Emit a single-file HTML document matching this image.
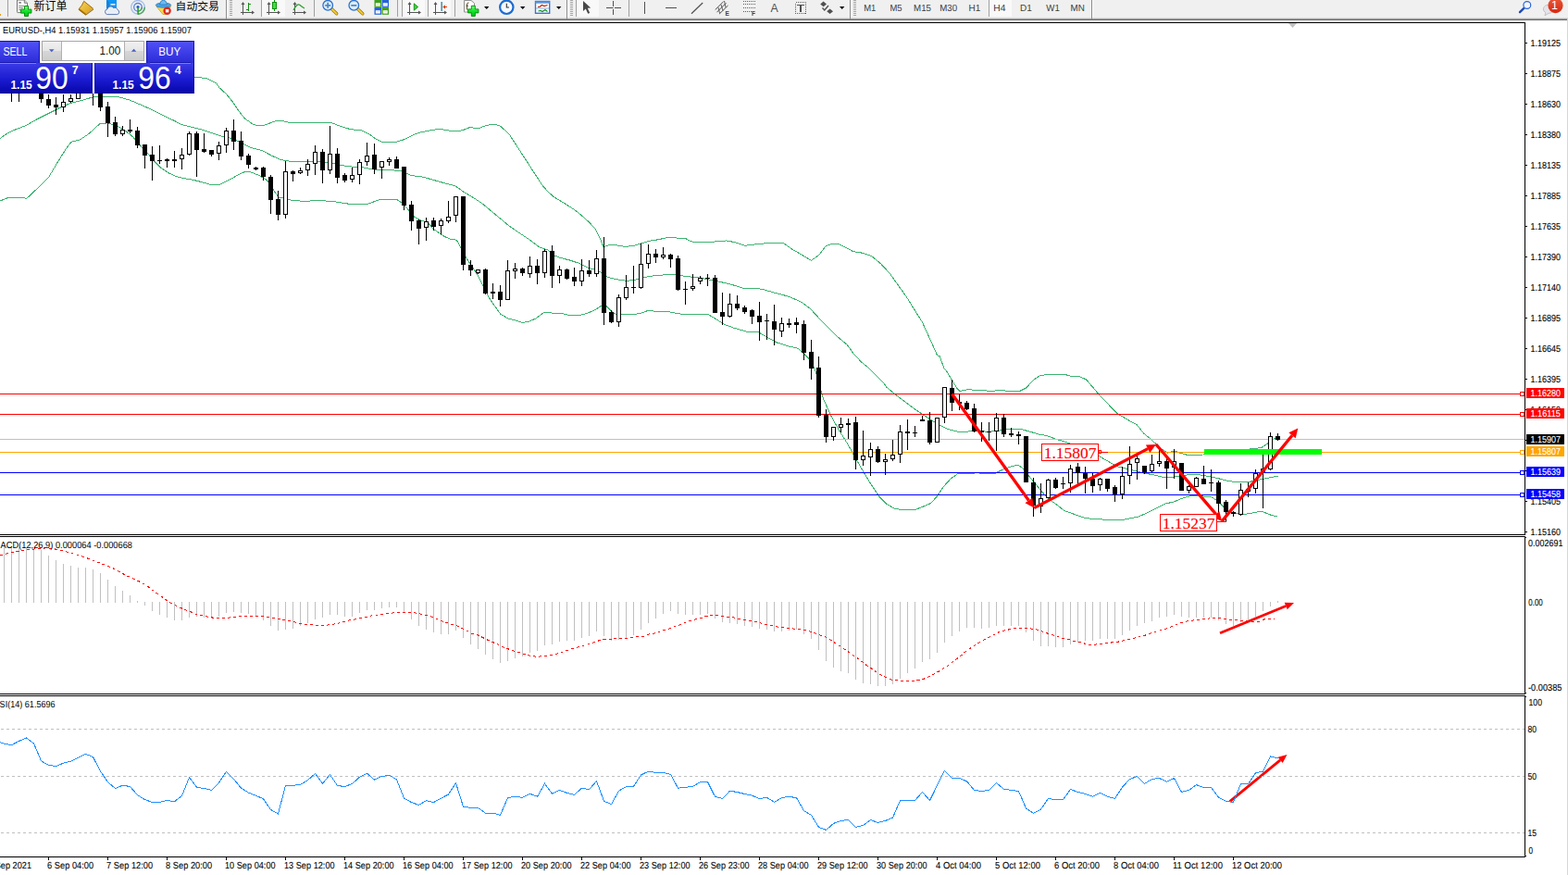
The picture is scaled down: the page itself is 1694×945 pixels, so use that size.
<!DOCTYPE html>
<html><head><meta charset="utf-8"><title>EURUSD H4</title>
<style>html,body{margin:0;padding:0;background:#fff}body{width:1694px;height:945px;overflow:hidden;position:relative;font-family:"Liberation Sans",sans-serif}</style></head>
<body>
<svg width="1694" height="945" viewBox="0 0 1694 945" style="position:absolute;left:0;top:0;display:block">
<defs>
<linearGradient id="gP" x1="0" y1="0" x2="0" y2="1"><stop offset="0" stop-color="#3b3be6"/><stop offset="0.55" stop-color="#1a1ad0"/><stop offset="1" stop-color="#0606a8"/></linearGradient>
<linearGradient id="gB" x1="0" y1="0" x2="0" y2="1"><stop offset="0" stop-color="#5050f6"/><stop offset="1" stop-color="#2c2cd8"/></linearGradient>
<linearGradient id="gBtn" x1="0" y1="0" x2="0" y2="1"><stop offset="0" stop-color="#f0f0f0"/><stop offset="0.48" stop-color="#e6e6e6"/><stop offset="0.52" stop-color="#d6d6d6"/><stop offset="1" stop-color="#cccccc"/></linearGradient>
<linearGradient id="gRed" x1="0" y1="0" x2="0" y2="1"><stop offset="0" stop-color="#e85838"/><stop offset="1" stop-color="#d82810"/></linearGradient>
<linearGradient id="gGold" x1="0" y1="0" x2="1" y2="1"><stop offset="0" stop-color="#f8d860"/><stop offset="1" stop-color="#d89810"/></linearGradient>
<linearGradient id="gGreen" x1="0" y1="0" x2="0" y2="1"><stop offset="0" stop-color="#7dff8a"/><stop offset="0.5" stop-color="#12e42c"/><stop offset="1" stop-color="#00c418"/></linearGradient>
<clipPath id="cMain"><rect x="0" y="25" width="1647" height="552"/></clipPath>
<clipPath id="cMacd"><rect x="0" y="580" width="1647" height="169"/></clipPath>
<clipPath id="cRsi"><rect x="0" y="752" width="1647" height="173"/></clipPath>
</defs>
<rect x="0" y="0" width="1694" height="945" fill="#ffffff" />
<rect x="0" y="0" width="1694" height="19" fill="#f0f0f0" />
<rect x="0" y="19" width="1693" height="1" fill="#dadada" />
<rect x="0" y="20" width="1693" height="1" fill="#a2a2a2" />
<rect x="0" y="21" width="1693" height="1" fill="#6a6a6a" />
<rect x="1693" y="19" width="1" height="926" fill="#d6d6d6" />
<g shape-rendering="crispEdges">
<rect x="283" y="0" width="25" height="18" fill="#f9f9f9" />
<rect x="435" y="0" width="24" height="18" fill="#f9f9f9" />
<rect x="463" y="0" width="24" height="18" fill="#f9f9f9" />
<rect x="623" y="0" width="24" height="18" fill="#f9f9f9" />
<rect x="1069" y="0" width="24" height="18" fill="#f9f9f9" />
<rect x="8" y="0" width="1" height="18" fill="#a0a0a0" />
<rect x="282" y="0" width="1" height="18" fill="#a0a0a0" />
<rect x="339" y="0" width="1" height="18" fill="#a0a0a0" />
<rect x="429" y="0" width="1" height="18" fill="#a0a0a0" />
<rect x="434" y="0" width="1" height="18" fill="#a0a0a0" />
<rect x="462" y="0" width="1" height="18" fill="#a0a0a0" />
<rect x="491" y="0" width="1" height="18" fill="#a0a0a0" />
<rect x="622" y="0" width="1" height="18" fill="#a0a0a0" />
<rect x="679" y="0" width="1" height="18" fill="#a0a0a0" />
<rect x="1068" y="0" width="1" height="18" fill="#a0a0a0" />
<rect x="244" y="0" width="1" height="21" fill="#8c8c8c" />
<rect x="245" y="0" width="1" height="19" fill="#fbfbfb" />
<rect x="612" y="0" width="1" height="21" fill="#8c8c8c" />
<rect x="613" y="0" width="1" height="19" fill="#fbfbfb" />
<rect x="918" y="0" width="1" height="21" fill="#8c8c8c" />
<rect x="919" y="0" width="1" height="19" fill="#fbfbfb" />
<rect x="1179" y="0" width="1" height="21" fill="#8c8c8c" />
<rect x="1180" y="0" width="1" height="19" fill="#fbfbfb" />
<rect x="248" y="0" width="3" height="1" fill="#a6a6a6" />
<rect x="248" y="2" width="3" height="1" fill="#a6a6a6" />
<rect x="248" y="4" width="3" height="1" fill="#a6a6a6" />
<rect x="248" y="6" width="3" height="1" fill="#a6a6a6" />
<rect x="248" y="8" width="3" height="1" fill="#a6a6a6" />
<rect x="248" y="10" width="3" height="1" fill="#a6a6a6" />
<rect x="248" y="12" width="3" height="1" fill="#a6a6a6" />
<rect x="248" y="14" width="3" height="1" fill="#a6a6a6" />
<rect x="248" y="16" width="3" height="1" fill="#a6a6a6" />
<rect x="616" y="0" width="3" height="1" fill="#a6a6a6" />
<rect x="616" y="2" width="3" height="1" fill="#a6a6a6" />
<rect x="616" y="4" width="3" height="1" fill="#a6a6a6" />
<rect x="616" y="6" width="3" height="1" fill="#a6a6a6" />
<rect x="616" y="8" width="3" height="1" fill="#a6a6a6" />
<rect x="616" y="10" width="3" height="1" fill="#a6a6a6" />
<rect x="616" y="12" width="3" height="1" fill="#a6a6a6" />
<rect x="616" y="14" width="3" height="1" fill="#a6a6a6" />
<rect x="616" y="16" width="3" height="1" fill="#a6a6a6" />
<rect x="922" y="0" width="3" height="1" fill="#a6a6a6" />
<rect x="922" y="2" width="3" height="1" fill="#a6a6a6" />
<rect x="922" y="4" width="3" height="1" fill="#a6a6a6" />
<rect x="922" y="6" width="3" height="1" fill="#a6a6a6" />
<rect x="922" y="8" width="3" height="1" fill="#a6a6a6" />
<rect x="922" y="10" width="3" height="1" fill="#a6a6a6" />
<rect x="922" y="12" width="3" height="1" fill="#a6a6a6" />
<rect x="922" y="14" width="3" height="1" fill="#a6a6a6" />
<rect x="922" y="16" width="3" height="1" fill="#a6a6a6" />
</g>
<rect x="0" y="15" width="1" height="2" fill="#e0a020" />
<path d="M18.5 0 L26.3 0 L29.5 3.2 L29.5 12.8 Q29.5 13.6 28.7 13.6 L19.3 13.6 Q18.5 13.6 18.5 12.8 Z" fill="#ffffff" stroke="#747474" stroke-width="1"/>
<path d="M26.3 0 L26.3 3.2 L29.5 3.2" fill="#d8d8d8" stroke="#747474" stroke-width="0.9"/>
<rect x="20.2" y="2" width="2.8" height="1.7" fill="#8c8c8c"/>
<rect x="20.2" y="6" width="5.8" height="1" fill="#8a8a8a"/>
<rect x="20.2" y="8" width="4.6" height="1" fill="#8a8a8a"/>
<rect x="20.2" y="10" width="3" height="1" fill="#8a8a8a"/>
<path d="M26.5 6.5 h4 v3.6 h3.4 v4 h-3.4 v3.4 h-4 v-3.4 h-4 v-4 h4 Z" fill="url(#gGreen)" stroke="#008400" stroke-width="0.9"/>
<text x="36.6" y="11.4" font-family="Liberation Sans, Noto Sans CJK SC, sans-serif" font-size="12" fill="#000" textLength="36" lengthAdjust="spacingAndGlyphs">新订单</text>
<text x="189.6" y="11.3" font-family="Liberation Sans, Noto Sans CJK SC, sans-serif" font-size="11.8" fill="#000" textLength="47.2" lengthAdjust="spacingAndGlyphs">自动交易</text>
<path d="M85.2 9.7 Q88.8 6.2 90.7 1.3 L100.8 9.4 L92.7 15.6 Z" fill="url(#gGold)" stroke="#a06c04" stroke-width="1"/>
<path d="M85.2 9.7 L92.7 15.6" fill="none" stroke="#b07a08" stroke-width="1.8"/><path d="M93 15.4 L100.8 9.6" fill="none" stroke="#c8b070" stroke-width="1.6"/><path d="M85.2 10.4 L92.7 16.2 L101 10" fill="none" stroke="#946004" stroke-width="0.8"/>
<rect x="115" y="0" width="11" height="9.5" fill="#1096f4"/><path d="M115 0 L118 2 L118 9.5 L115 9.5 Z" fill="#0a84e0"/>
<rect x="119.5" y="4" width="5" height="1.6" fill="#d8ecff"/>

<path d="M115.6 15.6 a3 3 0 0 1 0.4 -5.8 a3.6 3.6 0 0 1 6.6 -1.2 a3 3 0 0 1 4.4 2 a2.6 2.6 0 0 1 -0.4 5 Z" fill="#e8eef8" stroke="#4c6aa8" stroke-width="0.9"/>
<circle cx="149" cy="7.8" r="7.3" fill="none" stroke="#a4bce8" stroke-width="1.3"/>
<path d="M156.3 7.8 a7.3 7.3 0 0 1 -7.3 7.3" fill="none" stroke="#58a868" stroke-width="1.6"/>
<circle cx="149" cy="7.8" r="4.3" fill="none" stroke="#5a86d8" stroke-width="1.3"/>
<path d="M153.3 7.8 a4.3 4.3 0 0 1 -4.3 4.3" fill="none" stroke="#48a058" stroke-width="1.4"/>
<circle cx="149" cy="7.6" r="1.6" fill="#2858c8"/>
<rect x="148.3" y="8" width="1.6" height="7.6" fill="#28a028"/>
<path d="M169 7 L184.5 7 L179 15.5 L176 15.5 Z" fill="#f4d850" stroke="#c8a020" stroke-width="0.8"/>
<ellipse cx="176.5" cy="5.6" rx="8.2" ry="2.6" fill="#4aa4e4" stroke="#2a7ac0" stroke-width="0.8"/>
<path d="M172.5 5 Q173 0.5 176.5 0 Q180 0.5 180.5 5 Z" fill="#6abcf0" stroke="#2a7ac0" stroke-width="0.8"/>
<circle cx="180.6" cy="11.7" r="4.2" fill="#e02818"/>
<rect x="178.9" y="10" width="3.4" height="3.4" fill="#ffffff"/>
<g fill="#555" shape-rendering="crispEdges"><rect x="262" y="3" width="1" height="13"/><rect x="260" y="13" width="13" height="1"/></g>
<path d="M260.5 5 L262.5 2 L264.5 5 Z M272 11.5 L275 13.5 L272 15.5 Z" fill="#555"/>
<g fill="#109010" shape-rendering="crispEdges"><rect x="268" y="3" width="1" height="9"/><rect x="268" y="4" width="3" height="1"/><rect x="266" y="10" width="3" height="1"/></g>
<g fill="#555" shape-rendering="crispEdges"><rect x="290" y="3" width="1" height="13"/><rect x="288" y="13" width="13" height="1"/></g>
<path d="M288.5 5 L290.5 2 L292.5 5 Z M300 11.5 L303 13.5 L300 15.5 Z" fill="#555"/>
<g shape-rendering="crispEdges"><rect x="296" y="0" width="1" height="12" fill="#109010"/><rect x="294" y="2" width="5" height="8" fill="#109010"/><rect x="295" y="3" width="3" height="6" fill="#40e040"/></g>
<g fill="#555" shape-rendering="crispEdges"><rect x="318" y="3" width="1" height="13"/><rect x="316" y="13" width="13" height="1"/></g>
<path d="M316.5 5 L318.5 2 L320.5 5 Z M328 11.5 L331 13.5 L328 15.5 Z" fill="#555"/>
<path d="M317 11 Q321 3 324 5.5 T329 9" fill="none" stroke="#30a030" stroke-width="1.3"/>
<path d="M358.2 9.5 L363.7 14.8" stroke="#a87808" stroke-width="3.4" stroke-linecap="round"/>
<path d="M358.2 9.5 L363.7 14.8" stroke="#f0d040" stroke-width="1.8" stroke-linecap="round"/>
<circle cx="354.2" cy="5.8" r="5.3" fill="#dcecfc" stroke="#2a72cc" stroke-width="1.3"/>
<rect x="351.2" y="5" width="6" height="1.7" fill="#4a86c0"/>
<rect x="353.34999999999997" y="2.8" width="1.7" height="6" fill="#4a86c0"/>
<path d="M386.3 9.5 L391.8 14.8" stroke="#a87808" stroke-width="3.4" stroke-linecap="round"/>
<path d="M386.3 9.5 L391.8 14.8" stroke="#f0d040" stroke-width="1.8" stroke-linecap="round"/>
<circle cx="382.3" cy="5.8" r="5.3" fill="#dcecfc" stroke="#2a72cc" stroke-width="1.3"/>
<rect x="379.3" y="5" width="6" height="1.7" fill="#4a86c0"/>
<rect x="404.5" y="0" width="7.5" height="7.8" fill="#3ea01e"/>
<rect x="405.8" y="3.2" width="5" height="3.4" fill="#ffffff"/>
<rect x="406.7" y="4.2" width="3.2" height="1" fill="#c8ecb0"/>
<rect x="412.5" y="0" width="7.5" height="7.8" fill="#2464d8"/>
<rect x="413.8" y="3.2" width="5" height="3.4" fill="#ffffff"/>
<rect x="414.7" y="4.2" width="3.2" height="1" fill="#d0e0ff"/>
<rect x="404.5" y="8" width="7.5" height="7.8" fill="#2464d8"/>
<rect x="405.8" y="11.2" width="5" height="3.4" fill="#ffffff"/>
<rect x="406.7" y="12.2" width="3.2" height="1" fill="#d0e0ff"/>
<rect x="412.5" y="8" width="7.5" height="7.8" fill="#3ea01e"/>
<rect x="413.8" y="11.2" width="5" height="3.4" fill="#ffffff"/>
<rect x="414.7" y="12.2" width="3.2" height="1" fill="#c8ecb0"/>
<g fill="#555" shape-rendering="crispEdges"><rect x="442" y="3" width="1" height="13"/><rect x="440" y="13" width="13" height="1"/></g>
<path d="M440.5 5 L442.5 2 L444.5 5 Z M452 11.5 L455 13.5 L452 15.5 Z" fill="#555"/>
<path d="M447.3 3.8 L451.6 7.5 L447.3 11.2 Z" fill="#40d040" stroke="#109010" stroke-width="0.9"/>
<g fill="#555" shape-rendering="crispEdges"><rect x="470" y="3" width="1" height="13"/><rect x="468" y="13" width="13" height="1"/></g>
<path d="M468.5 5 L470.5 2 L472.5 5 Z M480 11.5 L483 13.5 L480 15.5 Z" fill="#555"/>
<rect x="476.5" y="2" width="1.3" height="10" fill="#2080a0"/>
<path d="M478.2 7.5 L481.2 5.2 L481 7 L483 7 L483 8 L481 8 L481.2 9.8 Z" fill="#d84010"/>
<path d="M501.5 0.5 L509 0.5 L512.5 3.5 L512.5 13 L501.5 13 Z" fill="#fdfdfd" stroke="#909090" stroke-width="1"/>
<path d="M506.5 3 Q504.5 2.5 504.5 5 L504.5 10.5 M503.3 6.2 L506 6.2" stroke="#605030" stroke-width="1" fill="none"/>
<path d="M509.3 6.3 h4 v3.6 h3.6 v4 h-3.6 v3.5 h-4 v-3.5 h-3.7 v-4 h3.7 Z" fill="url(#gGreen)" stroke="#008400" stroke-width="0.9"/>
<path d="M523 7 L528.4 7 L525.7 10 Z" fill="#000"/>
<path d="M562 7 L567.4 7 L564.7 10 Z" fill="#000"/>
<path d="M601 7 L606.4 7 L603.7 10 Z" fill="#000"/>
<path d="M907 7 L912.4 7 L909.7 10 Z" fill="#000"/>
<circle cx="547.3" cy="7.8" r="7.2" fill="#f4f8ff" stroke="#1c6cd0" stroke-width="2.2"/>
<path d="M547.3 3.8 L547.3 8 L550 8" stroke="#303030" stroke-width="1.1" fill="none"/>
<rect x="546.3" y="0" width="2" height="1.2" fill="#1c6cd0"/>
<rect x="578.5" y="1.5" width="15.2" height="12.8" fill="#ffffff" stroke="#3a76c8" stroke-width="1.4"/>
<rect x="578.5" y="1.5" width="15.2" height="2.2" fill="#5a96e0"/>
<rect x="579" y="8.5" width="14" height="1" fill="#8ab0e0"/>
<path d="M581 7.5 L583 7.5 L585.5 5.5 L588 6.5 L591.5 5.5" stroke="#b02010" stroke-width="1.2" fill="none"/>
<path d="M581.5 12 L584 11.5 L586 12.5 L589 10.5 L591.5 12.5" stroke="#109020" stroke-width="1.2" fill="none"/>
<path d="M630 1 L630 12 L632.8 9.6 L635.2 14.8 L637.2 13.9 L634.8 8.8 L638.2 8.4 Z" fill="#484848"/>
<g fill="#505050" shape-rendering="crispEdges"><rect x="655" y="8" width="7" height="1"/><rect x="664" y="8" width="7" height="1"/><rect x="662" y="1" width="1" height="6"/><rect x="662" y="10" width="1" height="6"/><rect x="662" y="8" width="1" height="1" fill="#909090"/></g>
<g fill="#505050" shape-rendering="crispEdges"><rect x="696" y="2" width="1" height="13"/><rect x="719" y="8" width="12" height="1"/></g>
<path d="M747 14.8 L759.2 3" stroke="#505050" stroke-width="1.2"/>
<path d="M772.7 10.5 L781.5 1.8 M774.5 13.2 L784.5 3.2 M777 15.2 L786.5 6" stroke="#505050" stroke-width="1"/>
<path d="M776 8 L777.5 14 M779 5 L781 11.5 M782.5 1 L784 8" stroke="#505050" stroke-width="0.9"/>
<text x="783.6" y="16.6" font-family="Liberation Sans, sans-serif" font-size="6.5" font-weight="bold" fill="#404040">E</text>
<path d="M802.5 1.5 H815.5" stroke="#606060" stroke-width="1" stroke-dasharray="1 1" shape-rendering="crispEdges"/>
<path d="M802.5 4.5 H815.5" stroke="#606060" stroke-width="1" stroke-dasharray="1 1" shape-rendering="crispEdges"/>
<path d="M802.5 8.5 H815.5" stroke="#606060" stroke-width="1" stroke-dasharray="1 1" shape-rendering="crispEdges"/>
<path d="M802.5 12.5 H811.5" stroke="#606060" stroke-width="1" stroke-dasharray="1 1" shape-rendering="crispEdges"/>
<text x="812" y="16.6" font-family="Liberation Sans, sans-serif" font-size="6.5" font-weight="bold" fill="#404040">F</text>
<text x="832.6" y="12.8" font-family="Liberation Sans, sans-serif" font-size="12.5" fill="#505050" textLength="8.2" lengthAdjust="spacingAndGlyphs">A</text>
<rect x="859.5" y="2.5" width="11" height="12" fill="none" stroke="#606060" stroke-width="1" stroke-dasharray="1 1" shape-rendering="crispEdges"/>
<g fill="#505050" shape-rendering="crispEdges"><rect x="861" y="5" width="8" height="1"/><rect x="864" y="5" width="2" height="8"/></g>
<path d="M889.6 1.5 L893 4.5 L889.6 7.2 L886.2 4.5 Z M896.6 9.5 L900 12.3 L896.6 15 L893.2 12.3 Z" fill="#505050"/>
<path d="M888.5 8.5 L890.8 11 L895 6" stroke="#505050" stroke-width="1.4" fill="none"/>
<text transform="translate(933.2 12) skewX(0.5)" font-family="Liberation Sans, sans-serif" font-size="10.2" fill="#404040" textLength="13.2" lengthAdjust="spacingAndGlyphs">M1</text>
<text transform="translate(961.4 12) skewX(0.5)" font-family="Liberation Sans, sans-serif" font-size="10.2" fill="#404040" textLength="13.2" lengthAdjust="spacingAndGlyphs">M5</text>
<text transform="translate(987 12) skewX(0.5)" font-family="Liberation Sans, sans-serif" font-size="10.2" fill="#404040" textLength="19" lengthAdjust="spacingAndGlyphs">M15</text>
<text transform="translate(1015.2 12) skewX(0.5)" font-family="Liberation Sans, sans-serif" font-size="10.2" fill="#404040" textLength="19" lengthAdjust="spacingAndGlyphs">M30</text>
<text transform="translate(1046.4 12) skewX(0.5)" font-family="Liberation Sans, sans-serif" font-size="10.2" fill="#404040" textLength="12.8" lengthAdjust="spacingAndGlyphs">H1</text>
<text transform="translate(1073.2 12) skewX(0.5)" font-family="Liberation Sans, sans-serif" font-size="10.2" fill="#404040" textLength="13.2" lengthAdjust="spacingAndGlyphs">H4</text>
<text transform="translate(1102 12) skewX(0.5)" font-family="Liberation Sans, sans-serif" font-size="10.2" fill="#404040" textLength="12.8" lengthAdjust="spacingAndGlyphs">D1</text>
<text transform="translate(1130.2 12) skewX(0.5)" font-family="Liberation Sans, sans-serif" font-size="10.2" fill="#404040" textLength="14.6" lengthAdjust="spacingAndGlyphs">W1</text>
<text transform="translate(1156.4 12) skewX(0.5)" font-family="Liberation Sans, sans-serif" font-size="10.2" fill="#404040" textLength="15.4" lengthAdjust="spacingAndGlyphs">MN</text>
<path d="M1646.4 8.8 L1642 13.2" stroke="#1c4cb8" stroke-width="2.4" stroke-linecap="round"/>
<circle cx="1649.8" cy="5.5" r="3.9" fill="#f4f6fc" stroke="#2864d8" stroke-width="1.2"/>
<path d="M1669 16.8 L1669.8 13.6 a5.6 4.6 0 1 1 3.2 0.8 Z" fill="#e4e4ea" stroke="#b8b8bc" stroke-width="0.8"/>
<circle cx="1680.5" cy="6.1" r="8.1" fill="url(#gRed)"/>
<text x="1679.6" y="9.8" font-family="Liberation Sans, sans-serif" font-size="12.5" fill="#fff" text-anchor="middle">1</text>
<g shape-rendering="crispEdges" fill="#000">
<rect x="0" y="24" width="1648" height="1" fill="#000" />
<rect x="1647" y="24" width="1" height="554" fill="#000" />
<rect x="1647" y="579" width="1" height="171" fill="#000" />
<rect x="1647" y="751" width="1" height="175" fill="#000" />
<rect x="0" y="577" width="1648" height="1" fill="#000" />
<rect x="0" y="579" width="1648" height="1" fill="#000" />
<rect x="0" y="749" width="1648" height="1" fill="#000" />
<rect x="0" y="751" width="1648" height="1" fill="#000" />
<rect x="0" y="925" width="1648" height="1" fill="#000" />
</g>
<path d="M1392 25 L1401 25 L1396.5 30 Z" fill="#c0c0c0"/>
<g clip-path="url(#cMain)" shape-rendering="crispEdges">
<polyline points="200,82.6 212.7,83.1 223.9,84.9 233.8,89.9 237.2,95 244.6,101.6 251.2,109.9 257.9,119.8 264.5,128.1 272.7,133.8 276.6,135.4 280,135.5 284.9,135.4 293.1,132.4 299.8,130.2 304.7,130.6 313,132.4 336.1,132.4 357.6,132.4 365.9,135.7 379.1,139.8 390.7,140.7 398.9,144.8 405.5,149.8 412.1,153.1 428.7,153.1 436.9,150.6 445.2,146.4 451.8,143.5 465,140.7 475,139.3 483.2,140.7 491.5,142 499.8,140.7 508,137.4 516.3,139 524.5,135.7 531.2,134.4 539.4,135.2 550,144.8 585.8,200 592.4,207.4 599,213.2 608.9,219 620.5,226.4 628.8,233.1 637,240.5 643.6,247.9 648.6,257.9 651.9,266.9 658.5,264.5 666.8,265 675,266.4 685,265.3 693.2,262.8 701.5,260.3 711.4,258.7 721.3,256.5 731.2,257 741.2,257.9 746.6,260.8 749.4,261.2 764.8,262 776.4,260.5 784.6,260 794.5,261.7 804.5,265.3 814.4,264.1 829.3,262.5 845.8,262.1 855.7,269.1 865.6,274.9 876.4,281.2 884.6,275.7 892.1,265.8 898.7,263.3 905.3,263.3 913.6,267.4 921.8,271.6 931.7,273.2 941.7,276.5 951.6,284.8 961.5,295.5 971.4,309.6 979.7,321.2 987.9,334.4 996.2,347.6 1004.5,365.8 1012.7,384 1015.3,384.9 1020,398 1021.9,399.8 1028.5,410.5 1033.5,418.8 1036.8,422.4 1045,420.9 1058.3,421.2 1071.5,422.6 1080,421.3 1087.8,422.2 1096.9,422.6 1100.8,422.9 1108.6,419 1116.4,410.5 1124.2,405.3 1135.8,404.3 1150.1,404.3 1156.6,406.2 1165.7,406.4 1173.5,409.9 1181.3,419 1187.8,426.8 1194.3,433.2 1200.8,440.4 1207.3,446.9 1215.1,451.4 1221.6,455.3 1228.1,458.6 1235.8,468.3 1242.3,473.5 1248.8,479.4 1255.3,485.2 1261.8,489.1 1268.3,486.8 1274.8,489.1 1282.6,491.3 1300,491 1308.3,490.9 1328.6,489.6 1352.3,484.5 1362.5,483.8 1369.3,479.1 1374.3,474.3 1379.9,473.2" fill="none" stroke="#3cb371" stroke-width="1" />
<polyline points="0,149.5 8.3,143.8 16.5,140 28.1,135.5 39.7,128.9 52.9,122.3 66.1,115.7 76,111.5 89.3,108.2 99.2,105.2 109.1,104.1 119,104.1 128.9,104.9 140.5,108.2 152.1,113.2 165.3,119 178.5,125.6 188.4,130.5 196.7,134.7 208.3,137.6 219.8,140.5 231.4,144.6 241.3,147.9 251.2,149.5 261.2,154.5 270,159.2 271.1,159.5 283.2,162.6 293.1,167.9 303.1,172.4 313,174.2 336.1,174.2 356,175.4 369.2,178.7 382.4,180.3 392.3,180.8 402.2,182.8 412.1,183.6 428.7,184.1 435.3,184.8 443.6,189.4 456.8,191.1 468.3,194.4 479.9,197.7 491.5,200.5 501.4,207.6 511.3,213.4 521.2,220 531.2,228.3 541.1,236.5 550,244 562.6,252.6 572.6,259.2 582.5,266.9 592.4,270.2 599,276 605.6,278.5 615.5,281 625.5,284.3 635.4,289.3 645.3,291.7 650.2,295 655.2,298.7 661.8,300.8 670.1,302.5 678.3,303.3 686.6,302.1 694.9,300 701.5,298.3 711.4,297.5 721.3,296.4 727.9,296.2 734.5,297.5 740,298.3 756.5,300.2 773.1,303.3 789.6,307.1 802.8,311.2 822.6,312.1 835.9,315.9 852.4,320.3 865.6,326.1 875.5,333.6 885.5,344.3 895.4,354.2 905.3,364.1 915.2,372.4 921.8,381.5 930.1,390.6 938.3,397.2 946.6,405.5 954.9,413.7 957.4,417.9 967.4,426.2 977.3,433.6 987.2,441.1 997.1,447.7 1007,454.3 1015.3,459.3 1025.2,463.9 1035.1,466.2 1045,466.2 1055,464.5 1064.9,466.2 1074.8,465.9 1084.7,464.2 1094.6,463.4 1104.5,463.9 1114.5,466.7 1122.7,469.2 1130,470.3 1140,473.9 1153.2,478 1164.8,483 1176.4,486.3 1187.9,492.9 1197.9,498.7 1206.1,503.6 1216,506.1 1226,508.6 1235.9,511.1 1245.8,512.7 1255.7,515.2 1265.6,515.7 1275.5,513.6 1285.5,512.7 1295.4,512.7 1305.3,514.4 1315.2,516.4 1325.1,519 1335,520.7 1346.6,521 1356.5,519 1366.4,516.9 1374.7,515.2 1380.5,514" fill="none" stroke="#3cb371" stroke-width="1" />
<polyline points="0,217 8.3,213.7 24.8,213.7 28.9,214.3 39.7,204.1 52.9,190.9 62.8,174.3 71.1,161.1 76.9,153.2 86,151.2 95.9,144.6 108.3,133.3 115.7,133 125.6,135.5 135.5,141.3 143.8,147.9 152.1,157.8 158.7,164.4 165.3,172.7 173.6,181 181.8,186.7 190.1,190.5 198.3,192.5 208.3,194.2 218.2,196.7 228.1,199.5 238,199.1 247.9,194.2 257.9,188.4 264.5,185.6 270,185.6 279.9,189.4 288.2,194.4 294.8,204.3 301.4,213.4 308,214.2 313,215.9 329.5,217.5 342.7,216.4 359.3,217.5 377.4,220.3 397.3,220.3 410.5,215.4 428.7,215.4 435.3,220 441.9,227.4 448.5,234.9 455.1,238.2 461.7,239.8 468.3,247.3 476.6,253.1 480,255.4 486.6,258.2 493.2,259.2 498.2,267.8 503.1,277.7 509.8,287.6 516.4,297.5 521.3,307.4 527.9,320.7 534.5,330.6 541.2,339.7 549.4,344.1 557.7,346.3 564.3,348.3 570.9,347.6 579.2,343.8 587.4,337.7 595.7,338 605.6,338 615.5,340.8 625.5,340.8 635.4,338 643.6,334.2 650.2,329.8 655.2,330.6 660.2,335.9 665.1,339.3 671.7,339.7 685,339.7 693.2,338 699.8,335.5 711.4,336.4 721.3,336.4 731.2,338.5 740,339.8 764.8,339.3 773.1,344.3 783,350.6 792.9,354.2 806.1,358 819.3,358.8 829.3,364.5 839.2,369.9 852.4,374 862.3,376.2 868.2,382.4 868.9,382.3 875.5,388.9 876.4,391.5 880.5,398.8 883.1,408 889.7,431.2 897.9,449.3 906.6,464.9 914.9,478.1 921.5,489.7 929.8,504.5 939.7,521.1 949.6,536 957.9,544.2 966.1,549.2 972.7,550.3 989.3,550.3 997.5,547 1005.8,543.4 1012.4,536 1019,526 1027.3,516.9 1035.5,511.2 1045.5,511.5 1055.4,510.8 1065.3,511.5 1075.2,511.2 1081.8,507.9 1090.1,504.5 1100,502.1 1106.6,507 1113.2,516.1 1121.5,526 1129.8,536 1138,542.6 1140,543.8 1149.9,551.6 1161.5,555.7 1171.4,559.3 1183,560.7 1202.8,561.5 1214.4,561.2 1229.3,558.2 1239.2,554 1249.1,549.1 1259,544.1 1268.9,541.7 1278.8,537.5 1285.5,535.9 1298.7,535.9 1308.6,536.7 1315.2,540.8 1321.8,547.4 1326.8,552.4 1335,554 1343.3,555.7 1353.2,554 1363.1,552.1 1371.4,555.7 1380.5,558.2" fill="none" stroke="#3cb371" stroke-width="1" />
<rect x="0" y="474" width="1647" height="1" fill="#c0c0c0" />
<rect x="0" y="425" width="1647" height="1" fill="#ff0000" />
<rect x="0" y="447" width="1647" height="1" fill="#ff0000" />
<rect x="0" y="488" width="1647" height="1" fill="#ffa500" />
<rect x="0" y="510" width="1647" height="1" fill="#0000ff" />
<rect x="0" y="534" width="1647" height="1" fill="#0000ff" />
<rect x="4" y="92" width="1" height="7" fill="#000" />
<rect x="2" y="93" width="5" height="5" fill="#000" />
<rect x="12" y="92" width="1" height="18" fill="#000" />
<rect x="10" y="93" width="5" height="5" fill="#000" />
<rect x="20" y="92" width="1" height="18" fill="#000" />
<rect x="18" y="93" width="5" height="5" fill="#000" />
<rect x="19" y="94" width="3" height="3" fill="#fff" />
<rect x="28" y="92" width="1" height="6" fill="#000" />
<rect x="26" y="93" width="5" height="4" fill="#000" />
<rect x="36" y="92" width="1" height="6" fill="#000" />
<rect x="34" y="93" width="5" height="4" fill="#000" />
<rect x="35" y="94" width="3" height="2" fill="#fff" />
<rect x="44" y="95" width="1" height="16" fill="#000" />
<rect x="42" y="98" width="5" height="9" fill="#000" />
<rect x="52" y="102" width="1" height="15" fill="#000" />
<rect x="50" y="107" width="5" height="7" fill="#000" />
<rect x="60" y="105" width="1" height="19" fill="#000" />
<rect x="58" y="113" width="5" height="3" fill="#000" />
<rect x="68" y="102" width="1" height="19" fill="#000" />
<rect x="66" y="110" width="5" height="6" fill="#000" />
<rect x="67" y="111" width="3" height="4" fill="#fff" />
<rect x="76" y="102" width="1" height="9" fill="#000" />
<rect x="74" y="106" width="5" height="4" fill="#000" />
<rect x="75" y="107" width="3" height="2" fill="#fff" />
<rect x="84" y="98" width="1" height="9" fill="#000" />
<rect x="82" y="100" width="5" height="7" fill="#000" />
<rect x="83" y="101" width="3" height="5" fill="#fff" />
<rect x="92" y="92" width="1" height="7" fill="#000" />
<rect x="90" y="93" width="5" height="5" fill="#000" />
<rect x="91" y="94" width="3" height="3" fill="#fff" />
<rect x="100" y="92" width="1" height="22" fill="#000" />
<rect x="98" y="93" width="5" height="5" fill="#000" />
<rect x="108" y="95" width="1" height="25" fill="#000" />
<rect x="106" y="97" width="5" height="19" fill="#000" />
<rect x="116" y="110" width="1" height="38" fill="#000" />
<rect x="114" y="115" width="5" height="18" fill="#000" />
<rect x="124" y="126" width="1" height="21" fill="#000" />
<rect x="122" y="132" width="5" height="13" fill="#000" />
<rect x="132" y="136" width="1" height="11" fill="#000" />
<rect x="130" y="140" width="5" height="5" fill="#000" />
<rect x="131" y="141" width="3" height="3" fill="#fff" />
<rect x="140" y="129" width="1" height="15" fill="#000" />
<rect x="138" y="140" width="5" height="2" fill="#000" />
<rect x="148" y="137" width="1" height="23" fill="#000" />
<rect x="146" y="141" width="5" height="16" fill="#000" />
<rect x="156" y="156" width="1" height="26" fill="#000" />
<rect x="154" y="156" width="5" height="12" fill="#000" />
<rect x="164" y="158" width="1" height="37" fill="#000" />
<rect x="162" y="167" width="5" height="7" fill="#000" />
<rect x="172" y="157" width="1" height="20" fill="#000" />
<rect x="170" y="173" width="5" height="1" fill="#000" />
<rect x="180" y="171" width="1" height="10" fill="#000" />
<rect x="178" y="172" width="5" height="2" fill="#000" />
<rect x="188" y="163" width="1" height="18" fill="#000" />
<rect x="186" y="172" width="5" height="2" fill="#000" />
<rect x="196" y="160" width="1" height="23" fill="#000" />
<rect x="194" y="167" width="5" height="5" fill="#000" />
<rect x="195" y="168" width="3" height="3" fill="#fff" />
<rect x="204" y="142" width="1" height="26" fill="#000" />
<rect x="202" y="144" width="5" height="23" fill="#000" />
<rect x="203" y="145" width="3" height="21" fill="#fff" />
<rect x="212" y="142" width="1" height="49" fill="#000" />
<rect x="210" y="144" width="5" height="18" fill="#000" />
<rect x="220" y="144" width="1" height="21" fill="#000" />
<rect x="218" y="161" width="5" height="3" fill="#000" />
<rect x="228" y="162" width="1" height="7" fill="#000" />
<rect x="226" y="162" width="5" height="5" fill="#000" />
<rect x="236" y="153" width="1" height="20" fill="#000" />
<rect x="234" y="157" width="5" height="9" fill="#000" />
<rect x="235" y="158" width="3" height="7" fill="#fff" />
<rect x="244" y="138" width="1" height="27" fill="#000" />
<rect x="242" y="141" width="5" height="16" fill="#000" />
<rect x="243" y="142" width="3" height="14" fill="#fff" />
<rect x="252" y="129" width="1" height="33" fill="#000" />
<rect x="250" y="141" width="5" height="12" fill="#000" />
<rect x="260" y="142" width="1" height="31" fill="#000" />
<rect x="258" y="152" width="5" height="17" fill="#000" />
<rect x="268" y="166" width="1" height="16" fill="#000" />
<rect x="266" y="168" width="5" height="10" fill="#000" />
<rect x="276" y="180" width="1" height="4" fill="#000" />
<rect x="274" y="181" width="5" height="2" fill="#000" />
<rect x="284" y="180" width="1" height="15" fill="#000" />
<rect x="282" y="181" width="5" height="10" fill="#000" />
<rect x="292" y="189" width="1" height="42" fill="#000" />
<rect x="290" y="191" width="5" height="25" fill="#000" />
<rect x="300" y="206" width="1" height="32" fill="#000" />
<rect x="298" y="215" width="5" height="17" fill="#000" />
<rect x="308" y="174" width="1" height="62" fill="#000" />
<rect x="306" y="185" width="5" height="47" fill="#000" />
<rect x="307" y="186" width="3" height="45" fill="#fff" />
<rect x="316" y="184" width="1" height="12" fill="#000" />
<rect x="314" y="185" width="5" height="3" fill="#000" />
<rect x="324" y="181" width="1" height="7" fill="#000" />
<rect x="322" y="184" width="5" height="3" fill="#000" />
<rect x="323" y="185" width="3" height="1" fill="#fff" />
<rect x="332" y="172" width="1" height="18" fill="#000" />
<rect x="330" y="177" width="5" height="7" fill="#000" />
<rect x="331" y="178" width="3" height="5" fill="#fff" />
<rect x="340" y="157" width="1" height="32" fill="#000" />
<rect x="338" y="164" width="5" height="13" fill="#000" />
<rect x="339" y="165" width="3" height="11" fill="#fff" />
<rect x="348" y="161" width="1" height="37" fill="#000" />
<rect x="346" y="164" width="5" height="20" fill="#000" />
<rect x="356" y="136" width="1" height="52" fill="#000" />
<rect x="354" y="166" width="5" height="18" fill="#000" />
<rect x="355" y="167" width="3" height="16" fill="#fff" />
<rect x="364" y="160" width="1" height="38" fill="#000" />
<rect x="362" y="166" width="5" height="26" fill="#000" />
<rect x="372" y="187" width="1" height="10" fill="#000" />
<rect x="370" y="189" width="5" height="6" fill="#000" />
<rect x="380" y="181" width="1" height="16" fill="#000" />
<rect x="378" y="189" width="5" height="5" fill="#000" />
<rect x="379" y="190" width="3" height="3" fill="#fff" />
<rect x="388" y="172" width="1" height="27" fill="#000" />
<rect x="386" y="175" width="5" height="14" fill="#000" />
<rect x="387" y="176" width="3" height="12" fill="#fff" />
<rect x="396" y="154" width="1" height="25" fill="#000" />
<rect x="394" y="168" width="5" height="7" fill="#000" />
<rect x="395" y="169" width="3" height="5" fill="#fff" />
<rect x="404" y="155" width="1" height="33" fill="#000" />
<rect x="402" y="167" width="5" height="16" fill="#000" />
<rect x="412" y="174" width="1" height="19" fill="#000" />
<rect x="410" y="174" width="5" height="7" fill="#000" />
<rect x="411" y="175" width="3" height="5" fill="#fff" />
<rect x="420" y="170" width="1" height="9" fill="#000" />
<rect x="418" y="172" width="5" height="3" fill="#000" />
<rect x="419" y="173" width="3" height="1" fill="#fff" />
<rect x="428" y="169" width="1" height="13" fill="#000" />
<rect x="426" y="172" width="5" height="10" fill="#000" />
<rect x="436" y="180" width="1" height="47" fill="#000" />
<rect x="434" y="180" width="5" height="42" fill="#000" />
<rect x="444" y="217" width="1" height="32" fill="#000" />
<rect x="442" y="221" width="5" height="18" fill="#000" />
<rect x="452" y="237" width="1" height="27" fill="#000" />
<rect x="450" y="238" width="5" height="9" fill="#000" />
<rect x="460" y="235" width="1" height="25" fill="#000" />
<rect x="458" y="239" width="5" height="7" fill="#000" />
<rect x="459" y="240" width="3" height="5" fill="#fff" />
<rect x="468" y="235" width="1" height="14" fill="#000" />
<rect x="466" y="238" width="5" height="7" fill="#000" />
<rect x="476" y="236" width="1" height="17" fill="#000" />
<rect x="474" y="238" width="5" height="6" fill="#000" />
<rect x="475" y="239" width="3" height="4" fill="#fff" />
<rect x="484" y="217" width="1" height="24" fill="#000" />
<rect x="482" y="234" width="5" height="5" fill="#000" />
<rect x="483" y="235" width="3" height="3" fill="#fff" />
<rect x="492" y="212" width="1" height="28" fill="#000" />
<rect x="490" y="212" width="5" height="21" fill="#000" />
<rect x="491" y="213" width="3" height="19" fill="#fff" />
<rect x="500" y="212" width="1" height="80" fill="#000" />
<rect x="498" y="212" width="5" height="74" fill="#000" />
<rect x="508" y="281" width="1" height="17" fill="#000" />
<rect x="506" y="286" width="5" height="6" fill="#000" />
<rect x="516" y="291" width="1" height="5" fill="#000" />
<rect x="514" y="291" width="5" height="4" fill="#000" />
<rect x="515" y="292" width="3" height="2" fill="#fff" />
<rect x="524" y="290" width="1" height="28" fill="#000" />
<rect x="522" y="291" width="5" height="26" fill="#000" />
<rect x="532" y="306" width="1" height="17" fill="#000" />
<rect x="530" y="315" width="5" height="2" fill="#000" />
<rect x="540" y="308" width="1" height="23" fill="#000" />
<rect x="538" y="315" width="5" height="9" fill="#000" />
<rect x="548" y="281" width="1" height="43" fill="#000" />
<rect x="546" y="292" width="5" height="32" fill="#000" />
<rect x="547" y="293" width="3" height="30" fill="#fff" />
<rect x="556" y="284" width="1" height="17" fill="#000" />
<rect x="554" y="290" width="5" height="3" fill="#000" />
<rect x="555" y="291" width="3" height="1" fill="#fff" />
<rect x="564" y="289" width="1" height="9" fill="#000" />
<rect x="562" y="290" width="5" height="5" fill="#000" />
<rect x="572" y="277" width="1" height="23" fill="#000" />
<rect x="570" y="287" width="5" height="9" fill="#000" />
<rect x="571" y="288" width="3" height="7" fill="#fff" />
<rect x="580" y="280" width="1" height="27" fill="#000" />
<rect x="578" y="287" width="5" height="8" fill="#000" />
<rect x="588" y="269" width="1" height="31" fill="#000" />
<rect x="586" y="271" width="5" height="24" fill="#000" />
<rect x="587" y="272" width="3" height="22" fill="#fff" />
<rect x="596" y="265" width="1" height="46" fill="#000" />
<rect x="594" y="271" width="5" height="27" fill="#000" />
<rect x="604" y="287" width="1" height="19" fill="#000" />
<rect x="602" y="291" width="5" height="7" fill="#000" />
<rect x="603" y="292" width="3" height="5" fill="#fff" />
<rect x="612" y="290" width="1" height="12" fill="#000" />
<rect x="610" y="291" width="5" height="10" fill="#000" />
<rect x="620" y="289" width="1" height="20" fill="#000" />
<rect x="618" y="299" width="5" height="5" fill="#000" />
<rect x="628" y="280" width="1" height="29" fill="#000" />
<rect x="626" y="292" width="5" height="12" fill="#000" />
<rect x="627" y="293" width="3" height="10" fill="#fff" />
<rect x="636" y="281" width="1" height="18" fill="#000" />
<rect x="634" y="292" width="5" height="4" fill="#000" />
<rect x="644" y="270" width="1" height="29" fill="#000" />
<rect x="642" y="279" width="5" height="17" fill="#000" />
<rect x="643" y="280" width="3" height="15" fill="#fff" />
<rect x="652" y="256" width="1" height="95" fill="#000" />
<rect x="650" y="279" width="5" height="59" fill="#000" />
<rect x="660" y="335" width="1" height="14" fill="#000" />
<rect x="658" y="337" width="5" height="11" fill="#000" />
<rect x="668" y="318" width="1" height="35" fill="#000" />
<rect x="666" y="321" width="5" height="27" fill="#000" />
<rect x="667" y="322" width="3" height="25" fill="#fff" />
<rect x="676" y="297" width="1" height="27" fill="#000" />
<rect x="674" y="310" width="5" height="12" fill="#000" />
<rect x="675" y="311" width="3" height="10" fill="#fff" />
<rect x="684" y="287" width="1" height="30" fill="#000" />
<rect x="682" y="310" width="5" height="1" fill="#000" />
<rect x="692" y="263" width="1" height="49" fill="#000" />
<rect x="690" y="285" width="5" height="26" fill="#000" />
<rect x="691" y="286" width="3" height="24" fill="#fff" />
<rect x="700" y="264" width="1" height="26" fill="#000" />
<rect x="698" y="274" width="5" height="11" fill="#000" />
<rect x="699" y="275" width="3" height="9" fill="#fff" />
<rect x="708" y="269" width="1" height="15" fill="#000" />
<rect x="706" y="274" width="5" height="4" fill="#000" />
<rect x="716" y="267" width="1" height="13" fill="#000" />
<rect x="714" y="275" width="5" height="3" fill="#000" />
<rect x="715" y="276" width="3" height="1" fill="#fff" />
<rect x="724" y="274" width="1" height="15" fill="#000" />
<rect x="722" y="275" width="5" height="5" fill="#000" />
<rect x="732" y="276" width="1" height="38" fill="#000" />
<rect x="730" y="279" width="5" height="34" fill="#000" />
<rect x="740" y="304" width="1" height="25" fill="#000" />
<rect x="738" y="312" width="5" height="1" fill="#000" />
<rect x="748" y="296" width="1" height="18" fill="#000" />
<rect x="746" y="309" width="5" height="3" fill="#000" />
<rect x="747" y="310" width="3" height="1" fill="#fff" />
<rect x="756" y="298" width="1" height="9" fill="#000" />
<rect x="754" y="300" width="5" height="4" fill="#000" />
<rect x="755" y="301" width="3" height="2" fill="#fff" />
<rect x="764" y="296" width="1" height="13" fill="#000" />
<rect x="762" y="300" width="5" height="1" fill="#000" />
<rect x="772" y="297" width="1" height="41" fill="#000" />
<rect x="770" y="300" width="5" height="38" fill="#000" />
<rect x="780" y="316" width="1" height="35" fill="#000" />
<rect x="778" y="337" width="5" height="5" fill="#000" />
<rect x="788" y="317" width="1" height="26" fill="#000" />
<rect x="786" y="328" width="5" height="14" fill="#000" />
<rect x="787" y="329" width="3" height="12" fill="#fff" />
<rect x="796" y="319" width="1" height="16" fill="#000" />
<rect x="794" y="328" width="5" height="5" fill="#000" />
<rect x="804" y="330" width="1" height="9" fill="#000" />
<rect x="802" y="332" width="5" height="5" fill="#000" />
<rect x="812" y="334" width="1" height="16" fill="#000" />
<rect x="810" y="335" width="5" height="7" fill="#000" />
<rect x="820" y="326" width="1" height="42" fill="#000" />
<rect x="818" y="341" width="5" height="7" fill="#000" />
<rect x="828" y="339" width="1" height="28" fill="#000" />
<rect x="826" y="346" width="5" height="1" fill="#000" />
<rect x="836" y="329" width="1" height="44" fill="#000" />
<rect x="834" y="347" width="5" height="9" fill="#000" />
<rect x="844" y="343" width="1" height="21" fill="#000" />
<rect x="842" y="349" width="5" height="9" fill="#000" />
<rect x="843" y="350" width="3" height="7" fill="#fff" />
<rect x="852" y="344" width="1" height="10" fill="#000" />
<rect x="850" y="349" width="5" height="2" fill="#000" />
<rect x="860" y="343" width="1" height="17" fill="#000" />
<rect x="858" y="348" width="5" height="3" fill="#000" />
<rect x="868" y="346" width="1" height="43" fill="#000" />
<rect x="866" y="350" width="5" height="31" fill="#000" />
<rect x="876" y="367" width="1" height="43" fill="#000" />
<rect x="874" y="380" width="5" height="18" fill="#000" />
<rect x="884" y="385" width="1" height="66" fill="#000" />
<rect x="882" y="397" width="5" height="52" fill="#000" />
<rect x="892" y="442" width="1" height="36" fill="#000" />
<rect x="890" y="448" width="5" height="24" fill="#000" />
<rect x="900" y="461" width="1" height="15" fill="#000" />
<rect x="898" y="461" width="5" height="11" fill="#000" />
<rect x="899" y="462" width="3" height="9" fill="#fff" />
<rect x="908" y="451" width="1" height="16" fill="#000" />
<rect x="906" y="458" width="5" height="4" fill="#000" />
<rect x="907" y="459" width="3" height="2" fill="#fff" />
<rect x="916" y="452" width="1" height="22" fill="#000" />
<rect x="914" y="457" width="5" height="2" fill="#000" />
<rect x="924" y="450" width="1" height="57" fill="#000" />
<rect x="922" y="456" width="5" height="41" fill="#000" />
<rect x="932" y="465" width="1" height="38" fill="#000" />
<rect x="930" y="492" width="5" height="5" fill="#000" />
<rect x="931" y="493" width="3" height="3" fill="#fff" />
<rect x="940" y="478" width="1" height="36" fill="#000" />
<rect x="938" y="485" width="5" height="9" fill="#000" />
<rect x="939" y="486" width="3" height="7" fill="#fff" />
<rect x="948" y="482" width="1" height="18" fill="#000" />
<rect x="946" y="485" width="5" height="14" fill="#000" />
<rect x="956" y="490" width="1" height="23" fill="#000" />
<rect x="954" y="496" width="5" height="3" fill="#000" />
<rect x="955" y="497" width="3" height="1" fill="#fff" />
<rect x="964" y="475" width="1" height="23" fill="#000" />
<rect x="962" y="491" width="5" height="5" fill="#000" />
<rect x="963" y="492" width="3" height="3" fill="#fff" />
<rect x="972" y="459" width="1" height="41" fill="#000" />
<rect x="970" y="466" width="5" height="25" fill="#000" />
<rect x="971" y="467" width="3" height="23" fill="#fff" />
<rect x="980" y="453" width="1" height="33" fill="#000" />
<rect x="978" y="466" width="5" height="2" fill="#000" />
<rect x="988" y="460" width="1" height="12" fill="#000" />
<rect x="986" y="467" width="5" height="1" fill="#000" />
<rect x="996" y="449" width="1" height="6" fill="#000" />
<rect x="994" y="453" width="5" height="2" fill="#000" />
<rect x="1004" y="445" width="1" height="35" fill="#000" />
<rect x="1002" y="454" width="5" height="24" fill="#000" />
<rect x="1012" y="451" width="1" height="27" fill="#000" />
<rect x="1010" y="451" width="5" height="27" fill="#000" />
<rect x="1011" y="452" width="3" height="25" fill="#fff" />
<rect x="1020" y="418" width="1" height="39" fill="#000" />
<rect x="1018" y="418" width="5" height="33" fill="#000" />
<rect x="1019" y="419" width="3" height="31" fill="#fff" />
<rect x="1028" y="410" width="1" height="34" fill="#000" />
<rect x="1026" y="419" width="5" height="16" fill="#000" />
<rect x="1036" y="426" width="1" height="17" fill="#000" />
<rect x="1034" y="434" width="5" height="2" fill="#000" />
<rect x="1044" y="433" width="1" height="10" fill="#000" />
<rect x="1042" y="435" width="5" height="7" fill="#000" />
<rect x="1052" y="436" width="1" height="31" fill="#000" />
<rect x="1050" y="441" width="5" height="25" fill="#000" />
<rect x="1060" y="456" width="1" height="21" fill="#000" />
<rect x="1058" y="465" width="5" height="2" fill="#000" />
<rect x="1068" y="456" width="1" height="20" fill="#000" />
<rect x="1066" y="466" width="5" height="1" fill="#000" />
<rect x="1076" y="446" width="1" height="41" fill="#000" />
<rect x="1074" y="451" width="5" height="15" fill="#000" />
<rect x="1075" y="452" width="3" height="13" fill="#fff" />
<rect x="1084" y="447" width="1" height="25" fill="#000" />
<rect x="1082" y="451" width="5" height="18" fill="#000" />
<rect x="1092" y="462" width="1" height="10" fill="#000" />
<rect x="1090" y="468" width="5" height="2" fill="#000" />
<rect x="1100" y="466" width="1" height="14" fill="#000" />
<rect x="1098" y="469" width="5" height="2" fill="#000" />
<rect x="1108" y="471" width="1" height="50" fill="#000" />
<rect x="1106" y="471" width="5" height="50" fill="#000" />
<rect x="1116" y="516" width="1" height="42" fill="#000" />
<rect x="1114" y="521" width="5" height="25" fill="#000" />
<rect x="1124" y="522" width="1" height="32" fill="#000" />
<rect x="1122" y="538" width="5" height="9" fill="#000" />
<rect x="1123" y="539" width="3" height="7" fill="#fff" />
<rect x="1132" y="517" width="1" height="21" fill="#000" />
<rect x="1130" y="518" width="5" height="20" fill="#000" />
<rect x="1131" y="519" width="3" height="18" fill="#fff" />
<rect x="1140" y="516" width="1" height="12" fill="#000" />
<rect x="1138" y="518" width="5" height="9" fill="#000" />
<rect x="1148" y="515" width="1" height="13" fill="#000" />
<rect x="1146" y="522" width="5" height="1" fill="#000" />
<rect x="1156" y="502" width="1" height="30" fill="#000" />
<rect x="1154" y="506" width="5" height="16" fill="#000" />
<rect x="1155" y="507" width="3" height="14" fill="#fff" />
<rect x="1164" y="500" width="1" height="23" fill="#000" />
<rect x="1162" y="504" width="5" height="7" fill="#000" />
<rect x="1172" y="504" width="1" height="29" fill="#000" />
<rect x="1170" y="511" width="5" height="6" fill="#000" />
<rect x="1180" y="511" width="1" height="21" fill="#000" />
<rect x="1178" y="517" width="5" height="8" fill="#000" />
<rect x="1188" y="516" width="1" height="14" fill="#000" />
<rect x="1186" y="517" width="5" height="7" fill="#000" />
<rect x="1187" y="518" width="3" height="5" fill="#fff" />
<rect x="1196" y="517" width="1" height="14" fill="#000" />
<rect x="1194" y="517" width="5" height="11" fill="#000" />
<rect x="1204" y="524" width="1" height="18" fill="#000" />
<rect x="1202" y="526" width="5" height="8" fill="#000" />
<rect x="1212" y="504" width="1" height="35" fill="#000" />
<rect x="1210" y="514" width="5" height="20" fill="#000" />
<rect x="1211" y="515" width="3" height="18" fill="#fff" />
<rect x="1220" y="482" width="1" height="41" fill="#000" />
<rect x="1218" y="501" width="5" height="13" fill="#000" />
<rect x="1219" y="502" width="3" height="11" fill="#fff" />
<rect x="1228" y="490" width="1" height="28" fill="#000" />
<rect x="1226" y="495" width="5" height="5" fill="#000" />
<rect x="1227" y="496" width="3" height="3" fill="#fff" />
<rect x="1236" y="503" width="1" height="9" fill="#000" />
<rect x="1234" y="503" width="5" height="7" fill="#000" />
<rect x="1244" y="491" width="1" height="19" fill="#000" />
<rect x="1242" y="501" width="5" height="8" fill="#000" />
<rect x="1243" y="502" width="3" height="6" fill="#fff" />
<rect x="1252" y="485" width="1" height="19" fill="#000" />
<rect x="1250" y="498" width="5" height="3" fill="#000" />
<rect x="1251" y="499" width="3" height="1" fill="#fff" />
<rect x="1260" y="495" width="1" height="33" fill="#000" />
<rect x="1258" y="498" width="5" height="8" fill="#000" />
<rect x="1268" y="485" width="1" height="32" fill="#000" />
<rect x="1266" y="498" width="5" height="7" fill="#000" />
<rect x="1267" y="499" width="3" height="5" fill="#fff" />
<rect x="1276" y="500" width="1" height="30" fill="#000" />
<rect x="1274" y="500" width="5" height="30" fill="#000" />
<rect x="1284" y="524" width="1" height="9" fill="#000" />
<rect x="1282" y="525" width="5" height="5" fill="#000" />
<rect x="1283" y="526" width="3" height="3" fill="#fff" />
<rect x="1292" y="515" width="1" height="11" fill="#000" />
<rect x="1290" y="516" width="5" height="10" fill="#000" />
<rect x="1291" y="517" width="3" height="8" fill="#fff" />
<rect x="1300" y="503" width="1" height="20" fill="#000" />
<rect x="1298" y="517" width="5" height="6" fill="#000" />
<rect x="1308" y="507" width="1" height="24" fill="#000" />
<rect x="1306" y="521" width="5" height="1" fill="#000" />
<rect x="1316" y="519" width="1" height="37" fill="#000" />
<rect x="1314" y="521" width="5" height="23" fill="#000" />
<rect x="1324" y="540" width="1" height="24" fill="#000" />
<rect x="1322" y="542" width="5" height="11" fill="#000" />
<rect x="1332" y="552" width="1" height="6" fill="#000" />
<rect x="1330" y="553" width="5" height="2" fill="#000" />
<rect x="1340" y="522" width="1" height="35" fill="#000" />
<rect x="1338" y="529" width="5" height="27" fill="#000" />
<rect x="1339" y="530" width="3" height="25" fill="#fff" />
<rect x="1348" y="521" width="1" height="16" fill="#000" />
<rect x="1346" y="528" width="5" height="3" fill="#000" />
<rect x="1347" y="529" width="3" height="1" fill="#fff" />
<rect x="1356" y="507" width="1" height="26" fill="#000" />
<rect x="1354" y="511" width="5" height="17" fill="#000" />
<rect x="1355" y="512" width="3" height="15" fill="#fff" />
<rect x="1364" y="491" width="1" height="58" fill="#000" />
<rect x="1362" y="506" width="5" height="4" fill="#000" />
<rect x="1363" y="507" width="3" height="2" fill="#fff" />
<rect x="1372" y="467" width="1" height="41" fill="#000" />
<rect x="1370" y="471" width="5" height="36" fill="#000" />
<rect x="1371" y="472" width="3" height="34" fill="#fff" />
<rect x="1380" y="468" width="1" height="8" fill="#000" />
<rect x="1378" y="471" width="5" height="4" fill="#000" />
<rect x="1301" y="485" width="127" height="6" fill="#00ff00" />
</g>
<g shape-rendering="crispEdges" fill="none" stroke="#ff0000"><rect x="1187.5" y="486.5" width="2" height="3"/><path d="M1190 488.5 H1197"/><path d="M1315 563.5 H1325"/></g>
<path d="M1028.6 425.5 L1111.4 540.5" stroke="#ff0000" stroke-width="3.3" stroke-linecap="butt"/>
<path d="M1117.2 548.6 L1107.5 543.3 L1115.3 537.7 Z" fill="#ff0000"/>
<path d="M1117.2 548.6 L1240.1 484.6" stroke="#ff0000" stroke-width="3.3" stroke-linecap="butt"/>
<path d="M1249 480 L1242.3 488.9 L1237.9 480.4 Z" fill="#ff0000"/>
<path d="M1249 480 L1313.7 555.3" stroke="#ff0000" stroke-width="3.3" stroke-linecap="butt"/>
<path d="M1320.2 562.9 L1310 558.4 L1317.3 552.2 Z" fill="#ff0000"/>
<path d="M1320.2 562.9 L1396 470.2" stroke="#ff0000" stroke-width="3.3" stroke-linecap="butt"/>
<path d="M1402.3 462.5 L1399.7 473.3 L1392.3 467.2 Z" fill="#ff0000"/>
<path d="M1318 683.8 L1389.2 654.5" stroke="#ff0000" stroke-width="2.8" stroke-linecap="butt"/>
<path d="M1398 650.9 L1390.7 658.2 L1387.7 650.8 Z" fill="#ff0000"/>
<path d="M1328.6 865.7 L1383.2 820.9" stroke="#ff0000" stroke-width="2.8" stroke-linecap="butt"/>
<path d="M1390.5 814.9 L1385.7 824 L1380.6 817.8 Z" fill="#ff0000"/>
<rect x="1125.5" y="479.5" width="61" height="18" fill="#fff" stroke="#ff0000" stroke-width="1" shape-rendering="crispEdges"/>
<text x="1127.8" y="495" font-family="Liberation Serif, serif" font-size="17.4" fill="#ff0000" stroke="#ff0000" stroke-width="0.12" textLength="56.6" lengthAdjust="spacingAndGlyphs">1.15807</text>
<rect x="1253.5" y="555.5" width="61" height="18" fill="#fff" stroke="#ff0000" stroke-width="1" shape-rendering="crispEdges"/>
<text x="1255.8" y="571" font-family="Liberation Serif, serif" font-size="17.4" fill="#ff0000" stroke="#ff0000" stroke-width="0.12" textLength="56.6" lengthAdjust="spacingAndGlyphs">1.15237</text>
<g shape-rendering="crispEdges">
<rect x="1648" y="46" width="2" height="1" fill="#000" />
<rect x="1648" y="79" width="2" height="1" fill="#000" />
<rect x="1648" y="112" width="2" height="1" fill="#000" />
<rect x="1648" y="145" width="2" height="1" fill="#000" />
<rect x="1648" y="178" width="2" height="1" fill="#000" />
<rect x="1648" y="211" width="2" height="1" fill="#000" />
<rect x="1648" y="244" width="2" height="1" fill="#000" />
<rect x="1648" y="277" width="2" height="1" fill="#000" />
<rect x="1648" y="310" width="2" height="1" fill="#000" />
<rect x="1648" y="343" width="2" height="1" fill="#000" />
<rect x="1648" y="376" width="2" height="1" fill="#000" />
<rect x="1648" y="409" width="2" height="1" fill="#000" />
<rect x="1648" y="442" width="2" height="1" fill="#000" />
<rect x="1648" y="475" width="2" height="1" fill="#000" />
<rect x="1648" y="508" width="2" height="1" fill="#000" />
<rect x="1648" y="541" width="2" height="1" fill="#000" />
<rect x="1648" y="574" width="2" height="1" fill="#000" />
</g>
<text transform="translate(1653.4 50) skewX(0.5)" font-family="Liberation Sans, sans-serif" font-size="10.2" fill="#000" stroke="#000" stroke-width="0.1" textLength="32.6" lengthAdjust="spacingAndGlyphs">1.19125</text>
<text transform="translate(1653.4 83) skewX(0.5)" font-family="Liberation Sans, sans-serif" font-size="10.2" fill="#000" stroke="#000" stroke-width="0.1" textLength="32.6" lengthAdjust="spacingAndGlyphs">1.18875</text>
<text transform="translate(1653.4 116) skewX(0.5)" font-family="Liberation Sans, sans-serif" font-size="10.2" fill="#000" stroke="#000" stroke-width="0.1" textLength="32.6" lengthAdjust="spacingAndGlyphs">1.18630</text>
<text transform="translate(1653.4 149) skewX(0.5)" font-family="Liberation Sans, sans-serif" font-size="10.2" fill="#000" stroke="#000" stroke-width="0.1" textLength="32.6" lengthAdjust="spacingAndGlyphs">1.18380</text>
<text transform="translate(1653.4 182) skewX(0.5)" font-family="Liberation Sans, sans-serif" font-size="10.2" fill="#000" stroke="#000" stroke-width="0.1" textLength="32.6" lengthAdjust="spacingAndGlyphs">1.18135</text>
<text transform="translate(1653.4 215) skewX(0.5)" font-family="Liberation Sans, sans-serif" font-size="10.2" fill="#000" stroke="#000" stroke-width="0.1" textLength="32.6" lengthAdjust="spacingAndGlyphs">1.17885</text>
<text transform="translate(1653.4 248) skewX(0.5)" font-family="Liberation Sans, sans-serif" font-size="10.2" fill="#000" stroke="#000" stroke-width="0.1" textLength="32.6" lengthAdjust="spacingAndGlyphs">1.17635</text>
<text transform="translate(1653.4 281) skewX(0.5)" font-family="Liberation Sans, sans-serif" font-size="10.2" fill="#000" stroke="#000" stroke-width="0.1" textLength="32.6" lengthAdjust="spacingAndGlyphs">1.17390</text>
<text transform="translate(1653.4 314) skewX(0.5)" font-family="Liberation Sans, sans-serif" font-size="10.2" fill="#000" stroke="#000" stroke-width="0.1" textLength="32.6" lengthAdjust="spacingAndGlyphs">1.17140</text>
<text transform="translate(1653.4 347) skewX(0.5)" font-family="Liberation Sans, sans-serif" font-size="10.2" fill="#000" stroke="#000" stroke-width="0.1" textLength="32.6" lengthAdjust="spacingAndGlyphs">1.16895</text>
<text transform="translate(1653.4 380) skewX(0.5)" font-family="Liberation Sans, sans-serif" font-size="10.2" fill="#000" stroke="#000" stroke-width="0.1" textLength="32.6" lengthAdjust="spacingAndGlyphs">1.16645</text>
<text transform="translate(1653.4 413) skewX(0.5)" font-family="Liberation Sans, sans-serif" font-size="10.2" fill="#000" stroke="#000" stroke-width="0.1" textLength="32.6" lengthAdjust="spacingAndGlyphs">1.16395</text>
<text transform="translate(1653.4 446) skewX(0.5)" font-family="Liberation Sans, sans-serif" font-size="10.2" fill="#000" stroke="#000" stroke-width="0.1" textLength="32.6" lengthAdjust="spacingAndGlyphs">1.16150</text>
<text transform="translate(1653.4 479) skewX(0.5)" font-family="Liberation Sans, sans-serif" font-size="10.2" fill="#000" stroke="#000" stroke-width="0.1" textLength="32.6" lengthAdjust="spacingAndGlyphs">1.15900</text>
<text transform="translate(1653.4 512) skewX(0.5)" font-family="Liberation Sans, sans-serif" font-size="10.2" fill="#000" stroke="#000" stroke-width="0.1" textLength="32.6" lengthAdjust="spacingAndGlyphs">1.15655</text>
<text transform="translate(1653.4 545) skewX(0.5)" font-family="Liberation Sans, sans-serif" font-size="10.2" fill="#000" stroke="#000" stroke-width="0.1" textLength="32.6" lengthAdjust="spacingAndGlyphs">1.15405</text>
<text transform="translate(1653.4 578) skewX(0.5)" font-family="Liberation Sans, sans-serif" font-size="10.2" fill="#000" stroke="#000" stroke-width="0.1" textLength="32.6" lengthAdjust="spacingAndGlyphs">1.15160</text>
<rect x="1649" y="419" width="41" height="11" fill="#ff0000" shape-rendering="crispEdges"/>
<text transform="translate(1653.4 428) skewX(0.5)" font-family="Liberation Sans, sans-serif" font-size="10.2" fill="#fff" stroke="#fff" stroke-width="0.1" textLength="32.6" lengthAdjust="spacingAndGlyphs">1.16280</text>
<rect x="1649" y="441" width="41" height="11" fill="#ff0000" shape-rendering="crispEdges"/>
<text transform="translate(1653.4 450) skewX(0.5)" font-family="Liberation Sans, sans-serif" font-size="10.2" fill="#fff" stroke="#fff" stroke-width="0.1" textLength="32.6" lengthAdjust="spacingAndGlyphs">1.16115</text>
<rect x="1649" y="469" width="41" height="11" fill="#000000" shape-rendering="crispEdges"/>
<text transform="translate(1653.4 478) skewX(0.5)" font-family="Liberation Sans, sans-serif" font-size="10.2" fill="#fff" stroke="#fff" stroke-width="0.1" textLength="32.6" lengthAdjust="spacingAndGlyphs">1.15907</text>
<rect x="1649" y="482" width="41" height="11" fill="#ffa500" shape-rendering="crispEdges"/>
<text transform="translate(1653.4 491) skewX(0.5)" font-family="Liberation Sans, sans-serif" font-size="10.2" fill="#fff" stroke="#fff" stroke-width="0.1" textLength="32.6" lengthAdjust="spacingAndGlyphs">1.15807</text>
<rect x="1649" y="504" width="41" height="11" fill="#0000ff" shape-rendering="crispEdges"/>
<text transform="translate(1653.4 513) skewX(0.5)" font-family="Liberation Sans, sans-serif" font-size="10.2" fill="#fff" stroke="#fff" stroke-width="0.1" textLength="32.6" lengthAdjust="spacingAndGlyphs">1.15639</text>
<rect x="1649" y="528" width="41" height="11" fill="#0000ff" shape-rendering="crispEdges"/>
<text transform="translate(1653.4 537) skewX(0.5)" font-family="Liberation Sans, sans-serif" font-size="10.2" fill="#fff" stroke="#fff" stroke-width="0.1" textLength="32.6" lengthAdjust="spacingAndGlyphs">1.15458</text>
<g shape-rendering="crispEdges" fill="#fff">
<rect x="1642.5" y="423.5" width="4" height="4" stroke="#ff0000" stroke-width="1"/>
<rect x="1642.5" y="445.5" width="4" height="4" stroke="#ff0000" stroke-width="1"/>
<rect x="1642.5" y="486.5" width="4" height="4" stroke="#ffa500" stroke-width="1"/>
<rect x="1642.5" y="508.5" width="4" height="4" stroke="#0000ff" stroke-width="1"/>
<rect x="1642.5" y="532.5" width="4" height="4" stroke="#0000ff" stroke-width="1"/>
</g>
<rect x="1648" y="580" width="1" height="1" fill="#000" shape-rendering="crispEdges"/>
<rect x="1648" y="748" width="1" height="1" fill="#000" shape-rendering="crispEdges"/>
<rect x="1648" y="752" width="1" height="1" fill="#000" shape-rendering="crispEdges"/>
<rect x="1648" y="924" width="1" height="1" fill="#000" shape-rendering="crispEdges"/>
<text transform="translate(1651 590) skewX(0.5)" font-family="Liberation Sans, sans-serif" font-size="10.2" fill="#000" stroke="#000" stroke-width="0.1" textLength="37.4" lengthAdjust="spacingAndGlyphs">0.002691</text>
<text transform="translate(1651.2 654) skewX(0.5)" font-family="Liberation Sans, sans-serif" font-size="10.2" fill="#000" stroke="#000" stroke-width="0.1" textLength="15.6" lengthAdjust="spacingAndGlyphs">0.00</text>
<text transform="translate(1651 746) skewX(0.5)" font-family="Liberation Sans, sans-serif" font-size="10.2" fill="#000" stroke="#000" stroke-width="0.1" textLength="36.4" lengthAdjust="spacingAndGlyphs">-0.00385</text>
<text transform="translate(1651.4 762) skewX(0.5)" font-family="Liberation Sans, sans-serif" font-size="10.2" fill="#000" stroke="#000" stroke-width="0.1" textLength="14.6" lengthAdjust="spacingAndGlyphs">100</text>
<text transform="translate(1650.4 791) skewX(0.5)" font-family="Liberation Sans, sans-serif" font-size="10.2" fill="#000" stroke="#000" stroke-width="0.1" textLength="9.6" lengthAdjust="spacingAndGlyphs">80</text>
<text transform="translate(1650.4 842) skewX(0.5)" font-family="Liberation Sans, sans-serif" font-size="10.2" fill="#000" stroke="#000" stroke-width="0.1" textLength="9.6" lengthAdjust="spacingAndGlyphs">50</text>
<text transform="translate(1650.4 903) skewX(0.5)" font-family="Liberation Sans, sans-serif" font-size="10.2" fill="#000" stroke="#000" stroke-width="0.1" textLength="9.6" lengthAdjust="spacingAndGlyphs">15</text>
<text transform="translate(1651.4 922) skewX(0.5)" font-family="Liberation Sans, sans-serif" font-size="10.2" fill="#000" stroke="#000" stroke-width="0.1" textLength="4.6" lengthAdjust="spacingAndGlyphs">0</text>
<g clip-path="url(#cMacd)" shape-rendering="crispEdges">
<rect x="4" y="590" width="1" height="61" fill="#c0c0c0" />
<rect x="12" y="590" width="1" height="61" fill="#c0c0c0" />
<rect x="20" y="591" width="1" height="60" fill="#c0c0c0" />
<rect x="28" y="591" width="1" height="60" fill="#c0c0c0" />
<rect x="36" y="592" width="1" height="59" fill="#c0c0c0" />
<rect x="44" y="594" width="1" height="57" fill="#c0c0c0" />
<rect x="52" y="600" width="1" height="51" fill="#c0c0c0" />
<rect x="60" y="605" width="1" height="46" fill="#c0c0c0" />
<rect x="68" y="609" width="1" height="42" fill="#c0c0c0" />
<rect x="76" y="611" width="1" height="40" fill="#c0c0c0" />
<rect x="84" y="613" width="1" height="38" fill="#c0c0c0" />
<rect x="92" y="613" width="1" height="38" fill="#c0c0c0" />
<rect x="100" y="615" width="1" height="36" fill="#c0c0c0" />
<rect x="108" y="619" width="1" height="32" fill="#c0c0c0" />
<rect x="116" y="626" width="1" height="25" fill="#c0c0c0" />
<rect x="124" y="633" width="1" height="18" fill="#c0c0c0" />
<rect x="132" y="638" width="1" height="13" fill="#c0c0c0" />
<rect x="140" y="643" width="1" height="8" fill="#c0c0c0" />
<rect x="148" y="649" width="1" height="2" fill="#c0c0c0" />
<rect x="156" y="650" width="1" height="4" fill="#c0c0c0" />
<rect x="164" y="650" width="1" height="10" fill="#c0c0c0" />
<rect x="172" y="650" width="1" height="14" fill="#c0c0c0" />
<rect x="180" y="650" width="1" height="17" fill="#c0c0c0" />
<rect x="188" y="650" width="1" height="20" fill="#c0c0c0" />
<rect x="196" y="650" width="1" height="20" fill="#c0c0c0" />
<rect x="204" y="650" width="1" height="17" fill="#c0c0c0" />
<rect x="212" y="650" width="1" height="16" fill="#c0c0c0" />
<rect x="220" y="650" width="1" height="17" fill="#c0c0c0" />
<rect x="228" y="650" width="1" height="18" fill="#c0c0c0" />
<rect x="236" y="650" width="1" height="16" fill="#c0c0c0" />
<rect x="244" y="650" width="1" height="12" fill="#c0c0c0" />
<rect x="252" y="650" width="1" height="11" fill="#c0c0c0" />
<rect x="260" y="650" width="1" height="12" fill="#c0c0c0" />
<rect x="268" y="650" width="1" height="13" fill="#c0c0c0" />
<rect x="276" y="650" width="1" height="16" fill="#c0c0c0" />
<rect x="284" y="650" width="1" height="20" fill="#c0c0c0" />
<rect x="292" y="650" width="1" height="26" fill="#c0c0c0" />
<rect x="300" y="650" width="1" height="31" fill="#c0c0c0" />
<rect x="308" y="650" width="1" height="30" fill="#c0c0c0" />
<rect x="316" y="650" width="1" height="29" fill="#c0c0c0" />
<rect x="324" y="650" width="1" height="26" fill="#c0c0c0" />
<rect x="332" y="650" width="1" height="23" fill="#c0c0c0" />
<rect x="340" y="650" width="1" height="19" fill="#c0c0c0" />
<rect x="348" y="650" width="1" height="17" fill="#c0c0c0" />
<rect x="356" y="650" width="1" height="14" fill="#c0c0c0" />
<rect x="364" y="650" width="1" height="14" fill="#c0c0c0" />
<rect x="372" y="650" width="1" height="16" fill="#c0c0c0" />
<rect x="380" y="650" width="1" height="16" fill="#c0c0c0" />
<rect x="388" y="650" width="1" height="12" fill="#c0c0c0" />
<rect x="396" y="650" width="1" height="9" fill="#c0c0c0" />
<rect x="404" y="650" width="1" height="9" fill="#c0c0c0" />
<rect x="412" y="650" width="1" height="7" fill="#c0c0c0" />
<rect x="420" y="650" width="1" height="6" fill="#c0c0c0" />
<rect x="428" y="650" width="1" height="6" fill="#c0c0c0" />
<rect x="436" y="650" width="1" height="11" fill="#c0c0c0" />
<rect x="444" y="650" width="1" height="19" fill="#c0c0c0" />
<rect x="452" y="650" width="1" height="26" fill="#c0c0c0" />
<rect x="460" y="650" width="1" height="30" fill="#c0c0c0" />
<rect x="468" y="650" width="1" height="33" fill="#c0c0c0" />
<rect x="476" y="650" width="1" height="35" fill="#c0c0c0" />
<rect x="484" y="650" width="1" height="35" fill="#c0c0c0" />
<rect x="492" y="650" width="1" height="31" fill="#c0c0c0" />
<rect x="500" y="650" width="1" height="39" fill="#c0c0c0" />
<rect x="508" y="650" width="1" height="46" fill="#c0c0c0" />
<rect x="516" y="650" width="1" height="51" fill="#c0c0c0" />
<rect x="524" y="650" width="1" height="57" fill="#c0c0c0" />
<rect x="532" y="650" width="1" height="62" fill="#c0c0c0" />
<rect x="540" y="650" width="1" height="66" fill="#c0c0c0" />
<rect x="548" y="650" width="1" height="64" fill="#c0c0c0" />
<rect x="556" y="650" width="1" height="61" fill="#c0c0c0" />
<rect x="564" y="650" width="1" height="59" fill="#c0c0c0" />
<rect x="572" y="650" width="1" height="55" fill="#c0c0c0" />
<rect x="580" y="650" width="1" height="53" fill="#c0c0c0" />
<rect x="588" y="650" width="1" height="47" fill="#c0c0c0" />
<rect x="596" y="650" width="1" height="46" fill="#c0c0c0" />
<rect x="604" y="650" width="1" height="43" fill="#c0c0c0" />
<rect x="612" y="650" width="1" height="42" fill="#c0c0c0" />
<rect x="620" y="650" width="1" height="42" fill="#c0c0c0" />
<rect x="628" y="650" width="1" height="39" fill="#c0c0c0" />
<rect x="636" y="650" width="1" height="37" fill="#c0c0c0" />
<rect x="644" y="650" width="1" height="32" fill="#c0c0c0" />
<rect x="652" y="650" width="1" height="37" fill="#c0c0c0" />
<rect x="660" y="650" width="1" height="42" fill="#c0c0c0" />
<rect x="668" y="650" width="1" height="41" fill="#c0c0c0" />
<rect x="676" y="650" width="1" height="39" fill="#c0c0c0" />
<rect x="684" y="650" width="1" height="36" fill="#c0c0c0" />
<rect x="692" y="650" width="1" height="30" fill="#c0c0c0" />
<rect x="700" y="650" width="1" height="23" fill="#c0c0c0" />
<rect x="708" y="650" width="1" height="18" fill="#c0c0c0" />
<rect x="716" y="650" width="1" height="13" fill="#c0c0c0" />
<rect x="724" y="650" width="1" height="10" fill="#c0c0c0" />
<rect x="732" y="650" width="1" height="13" fill="#c0c0c0" />
<rect x="740" y="650" width="1" height="14" fill="#c0c0c0" />
<rect x="748" y="650" width="1" height="14" fill="#c0c0c0" />
<rect x="756" y="650" width="1" height="14" fill="#c0c0c0" />
<rect x="764" y="650" width="1" height="13" fill="#c0c0c0" />
<rect x="772" y="650" width="1" height="18" fill="#c0c0c0" />
<rect x="780" y="650" width="1" height="22" fill="#c0c0c0" />
<rect x="788" y="650" width="1" height="23" fill="#c0c0c0" />
<rect x="796" y="650" width="1" height="24" fill="#c0c0c0" />
<rect x="804" y="650" width="1" height="26" fill="#c0c0c0" />
<rect x="812" y="650" width="1" height="27" fill="#c0c0c0" />
<rect x="820" y="650" width="1" height="29" fill="#c0c0c0" />
<rect x="828" y="650" width="1" height="30" fill="#c0c0c0" />
<rect x="836" y="650" width="1" height="32" fill="#c0c0c0" />
<rect x="844" y="650" width="1" height="32" fill="#c0c0c0" />
<rect x="852" y="650" width="1" height="31" fill="#c0c0c0" />
<rect x="860" y="650" width="1" height="30" fill="#c0c0c0" />
<rect x="868" y="650" width="1" height="35" fill="#c0c0c0" />
<rect x="876" y="650" width="1" height="40" fill="#c0c0c0" />
<rect x="884" y="650" width="1" height="52" fill="#c0c0c0" />
<rect x="892" y="650" width="1" height="64" fill="#c0c0c0" />
<rect x="900" y="650" width="1" height="71" fill="#c0c0c0" />
<rect x="908" y="650" width="1" height="75" fill="#c0c0c0" />
<rect x="916" y="650" width="1" height="77" fill="#c0c0c0" />
<rect x="924" y="650" width="1" height="84" fill="#c0c0c0" />
<rect x="932" y="650" width="1" height="88" fill="#c0c0c0" />
<rect x="940" y="650" width="1" height="89" fill="#c0c0c0" />
<rect x="948" y="650" width="1" height="91" fill="#c0c0c0" />
<rect x="956" y="650" width="1" height="91" fill="#c0c0c0" />
<rect x="964" y="650" width="1" height="89" fill="#c0c0c0" />
<rect x="972" y="650" width="1" height="83" fill="#c0c0c0" />
<rect x="980" y="650" width="1" height="77" fill="#c0c0c0" />
<rect x="988" y="650" width="1" height="72" fill="#c0c0c0" />
<rect x="996" y="650" width="1" height="65" fill="#c0c0c0" />
<rect x="1004" y="650" width="1" height="62" fill="#c0c0c0" />
<rect x="1012" y="650" width="1" height="55" fill="#c0c0c0" />
<rect x="1020" y="650" width="1" height="44" fill="#c0c0c0" />
<rect x="1028" y="650" width="1" height="37" fill="#c0c0c0" />
<rect x="1036" y="650" width="1" height="32" fill="#c0c0c0" />
<rect x="1044" y="650" width="1" height="28" fill="#c0c0c0" />
<rect x="1052" y="650" width="1" height="28" fill="#c0c0c0" />
<rect x="1060" y="650" width="1" height="29" fill="#c0c0c0" />
<rect x="1068" y="650" width="1" height="28" fill="#c0c0c0" />
<rect x="1076" y="650" width="1" height="26" fill="#c0c0c0" />
<rect x="1084" y="650" width="1" height="26" fill="#c0c0c0" />
<rect x="1092" y="650" width="1" height="26" fill="#c0c0c0" />
<rect x="1100" y="650" width="1" height="26" fill="#c0c0c0" />
<rect x="1108" y="650" width="1" height="33" fill="#c0c0c0" />
<rect x="1116" y="650" width="1" height="42" fill="#c0c0c0" />
<rect x="1124" y="650" width="1" height="48" fill="#c0c0c0" />
<rect x="1132" y="650" width="1" height="48" fill="#c0c0c0" />
<rect x="1140" y="650" width="1" height="49" fill="#c0c0c0" />
<rect x="1148" y="650" width="1" height="49" fill="#c0c0c0" />
<rect x="1156" y="650" width="1" height="46" fill="#c0c0c0" />
<rect x="1164" y="650" width="1" height="44" fill="#c0c0c0" />
<rect x="1172" y="650" width="1" height="42" fill="#c0c0c0" />
<rect x="1180" y="650" width="1" height="42" fill="#c0c0c0" />
<rect x="1188" y="650" width="1" height="40" fill="#c0c0c0" />
<rect x="1196" y="650" width="1" height="40" fill="#c0c0c0" />
<rect x="1204" y="650" width="1" height="40" fill="#c0c0c0" />
<rect x="1212" y="650" width="1" height="36" fill="#c0c0c0" />
<rect x="1220" y="650" width="1" height="31" fill="#c0c0c0" />
<rect x="1228" y="650" width="1" height="26" fill="#c0c0c0" />
<rect x="1236" y="650" width="1" height="23" fill="#c0c0c0" />
<rect x="1244" y="650" width="1" height="21" fill="#c0c0c0" />
<rect x="1252" y="650" width="1" height="17" fill="#c0c0c0" />
<rect x="1260" y="650" width="1" height="16" fill="#c0c0c0" />
<rect x="1268" y="650" width="1" height="14" fill="#c0c0c0" />
<rect x="1276" y="650" width="1" height="16" fill="#c0c0c0" />
<rect x="1284" y="650" width="1" height="17" fill="#c0c0c0" />
<rect x="1292" y="650" width="1" height="17" fill="#c0c0c0" />
<rect x="1300" y="650" width="1" height="17" fill="#c0c0c0" />
<rect x="1308" y="650" width="1" height="17" fill="#c0c0c0" />
<rect x="1316" y="650" width="1" height="20" fill="#c0c0c0" />
<rect x="1324" y="650" width="1" height="24" fill="#c0c0c0" />
<rect x="1332" y="650" width="1" height="26" fill="#c0c0c0" />
<rect x="1340" y="650" width="1" height="22" fill="#c0c0c0" />
<rect x="1348" y="650" width="1" height="20" fill="#c0c0c0" />
<rect x="1356" y="650" width="1" height="16" fill="#c0c0c0" />
<rect x="1364" y="650" width="1" height="10" fill="#c0c0c0" />
<rect x="1372" y="650" width="1" height="5" fill="#c0c0c0" />
<rect x="1380" y="649" width="1" height="2" fill="#c0c0c0" />
<polyline points="0,599.8 6.6,598.2 13.2,596.5 19.8,595.2 28.1,594 38,592.9 49.6,591.9 61.2,593.2 72.7,596.2 84.3,599.5 92.6,602.3 102.5,606.1 109.1,608.4 115.7,611.1 122.3,613.9 127.3,616.7 132.2,619.3 138.8,622.6 145.5,625.5 152.1,628.8 158.7,632.6 163.6,636.5 170.2,641.2 175.2,644.8 181,649.1 186.8,652.4 193.4,655.7 200,658.5 205.8,660.7 212.4,663.8 219.8,664.6 224.8,666.3 231.4,667.3 246.3,667.3 252.9,666.3 264.5,665.6 270,665.5 286.5,665.5 291.5,666.9 299.8,668.5 314.6,670.5 319.6,672.1 324.5,673.8 336.1,674.6 341.1,675.6 351,675.5 359.3,674.3 369.2,672.3 375.8,670.2 385.7,668.5 397.3,666.4 402.2,664.7 415.5,663.2 420.4,662.4 428.7,661.6 445.2,661.4 451.8,662.4 465,665.5 470,667.7 475,670.2 481.6,672.1 488.2,674.3 493.1,675.6 499.8,678.9 504.7,681.4 509.7,684.2 516.3,685.9 522.9,689.2 529.5,692.5 536.1,695 540,697.4 546.6,699.9 553.2,702.4 559.8,704.4 566.4,706.5 573.1,708.2 579.7,709.3 587.9,708.5 596.2,707.4 602.8,705.7 609.4,703.7 616,701.1 622.6,699.4 629.3,697.4 637.5,695.5 642.5,693.3 649.1,691.2 655.7,690.3 668.9,689.5 678.8,689.2 683.8,688.3 695.4,687.2 702,684.5 708.6,683.9 715.2,681.2 721.8,679.6 728.4,676.8 735,674.6 740,672.3 746.6,670.2 753.2,668.5 758.2,667.4 763.1,665.2 771.4,664.4 778,664.7 784.6,666 789.6,666.4 794.5,667.4 801.2,669 807.8,670.2 810,670.5 818.3,671.3 823.2,673.5 829.8,674.6 834.8,676 841.4,677.3 853,678.4 861.2,679.6 869.5,680.6 877.8,682.9 884.4,685.5 891,687.5 896,690.3 901.7,694.1 908.3,698.3 914.1,702.4 919.9,706.5 925.7,710.3 931.5,714.8 937.3,719.3 943.1,723.1 948.8,727.5 955.5,730.8 962.1,733.8 967,734.6 975.3,735.5 985.2,735.5 991.8,734.6 996.8,733.8 1003.4,730.8 1010,727.5 1015.8,724.2 1021.6,720.6 1027.4,716.4 1033.1,712 1038.9,707.4 1044.7,702.4 1051.3,698.3 1057.9,694.1 1064.5,690 1069.5,687.9 1076.1,684.5 1080,682.2 1086.6,680.6 1094.9,678.9 1104.8,678.4 1118,679.3 1123,680.9 1129.6,683.4 1136.2,685.5 1142.8,687.5 1147.8,689.7 1154.4,690.5 1161,692.8 1166,693.6 1172.6,695.3 1179.2,696.6 1185.8,695.8 1195.7,694.5 1207.3,693.3 1213.9,691.7 1220.5,690.3 1227.1,688.7 1237,686.2 1243.6,683.7 1250.2,681.7 1256.9,680.1 1261.8,678.4 1268.4,675.6 1275,673.1 1281.7,671 1291.6,669.7 1303.1,668.5 1309.8,667.2 1318,667.4 1323,668.5 1329.6,669.3 1339.5,670.2 1347.8,671 1360,671.3 1368,668 1377,668.2" fill="none" stroke="#ff0000" stroke-width="1" stroke-dasharray="3 3"/>
</g>
<g clip-path="url(#cRsi)" shape-rendering="crispEdges">
<path d="M1 787.5 H1647" stroke="#c0c0c0" stroke-width="1" stroke-dasharray="3 3"/>
<path d="M1 838.5 H1647" stroke="#c0c0c0" stroke-width="1" stroke-dasharray="3 3"/>
<path d="M1 899.5 H1647" stroke="#c0c0c0" stroke-width="1" stroke-dasharray="3 3"/>
<polyline points="-4,800 4.5,803.2 12.5,804.6 20.5,800.4 28.5,797 36.5,802.9 44.5,821.8 52.5,826.4 60.5,827.5 68.5,824.2 76.5,822.2 84.5,818.1 92.5,814.3 100.5,817.6 108.5,833 116.5,844.6 124.5,851.5 132.5,848.2 140.5,849.5 148.5,858.6 156.5,863.6 164.5,866.4 172.5,866.4 180.5,864.4 188.5,865.7 196.5,859.4 204.5,839.6 212.5,850.3 220.5,851.5 228.5,853.3 236.5,845.4 244.5,833.3 252.5,841.3 260.5,851.2 268.5,856.1 276.5,859.2 284.5,862.8 292.5,874.5 300.5,879 308.5,848.4 316.5,848.4 324.5,847.3 332.5,842.6 340.5,835.5 348.5,846.3 356.5,836.5 364.5,848.4 372.5,849.6 380.5,846.4 388.5,839.3 396.5,835.2 404.5,842.1 412.5,838.5 420.5,837.2 428.5,841.8 436.5,862 444.5,866.6 452.5,869.4 460.5,864.5 468.5,866.6 476.5,862.1 484.5,858 492.5,845.6 500.5,871.2 508.5,872.4 516.5,872.4 524.5,878.2 532.5,878.2 540.5,880.3 548.5,861.7 556.5,860.3 564.5,861.3 572.5,857.2 580.5,860.3 588.5,846.3 596.5,857.2 604.5,853.4 612.5,856.4 620.5,858.3 628.5,851.2 636.5,852.6 644.5,843.5 652.5,865.3 660.5,868.6 668.5,854.2 676.5,849.6 684.5,849.3 692.5,836.9 700.5,833.2 708.5,834.4 716.5,834.4 724.5,836.4 732.5,851.2 740.5,850.4 748.5,849.3 756.5,844.6 764.5,844.6 772.5,860.3 780.5,862.5 788.5,854.2 796.5,855.5 804.5,857.5 812.5,859.2 820.5,862.5 828.5,861.3 836.5,866.3 844.5,861.7 852.5,860.3 860.5,861.7 868.5,875.7 876.5,880.3 884.5,893.4 892.5,896.4 900.5,889.4 908.5,886.4 916.5,885.6 924.5,893.4 932.5,891.4 940.5,885.6 948.5,888.4 956.5,886.4 964.5,883.1 972.5,864.5 980.5,864.5 988.5,864.5 996.5,855.4 1004.5,864.5 1012.5,848.4 1020.5,832.4 1028.5,840.5 1036.5,840.5 1044.5,843.8 1052.5,853.4 1060.5,854.5 1068.5,853.4 1076.5,845.6 1084.5,852.2 1092.5,853.4 1100.5,854.5 1108.5,872.9 1116.5,878.5 1124.5,874 1132.5,862.5 1140.5,863.6 1148.5,863.6 1156.5,852.6 1164.5,855.4 1172.5,857.5 1180.5,860.3 1188.5,856.2 1196.5,860.3 1204.5,862.5 1212.5,850.1 1220.5,841.5 1228.5,838.5 1236.5,846.3 1244.5,841.5 1252.5,840.5 1260.5,844.3 1268.5,840.5 1276.5,855.5 1284.5,853.4 1292.5,847.6 1300.5,850.6 1308.5,850.6 1316.5,861.2 1324.5,865.3 1332.5,866.3 1340.5,846.7 1348.5,846.7 1356.5,834.9 1364.5,833 1372.5,816.8 1380.5,819" fill="none" stroke="#1e90ff" stroke-width="1" />
</g>
<text transform="translate(3 36) skewX(0.5)" font-family="Liberation Sans, sans-serif" font-size="10.2" fill="#000" textLength="204" lengthAdjust="spacingAndGlyphs">EURUSD-,H4  1.15931 1.15957 1.15906 1.15907</text>
<text transform="translate(0.6 592) skewX(0.5)" font-family="Liberation Sans, sans-serif" font-size="10.2" fill="#000" textLength="142.4" lengthAdjust="spacingAndGlyphs">ACD(12,26,9) 0.000064 -0.000668</text>
<text transform="translate(-0.4 764) skewX(0.5)" font-family="Liberation Sans, sans-serif" font-size="10.2" fill="#000" textLength="60" lengthAdjust="spacingAndGlyphs">SI(14) 61.5696</text>
<g shape-rendering="crispEdges">
<rect x="-12" y="926" width="1" height="3" fill="#000" />
<rect x="52" y="926" width="1" height="3" fill="#000" />
<rect x="116" y="926" width="1" height="3" fill="#000" />
<rect x="180" y="926" width="1" height="3" fill="#000" />
<rect x="244" y="926" width="1" height="3" fill="#000" />
<rect x="308" y="926" width="1" height="3" fill="#000" />
<rect x="372" y="926" width="1" height="3" fill="#000" />
<rect x="436" y="926" width="1" height="3" fill="#000" />
<rect x="500" y="926" width="1" height="3" fill="#000" />
<rect x="564" y="926" width="1" height="3" fill="#000" />
<rect x="628" y="926" width="1" height="3" fill="#000" />
<rect x="692" y="926" width="1" height="3" fill="#000" />
<rect x="756" y="926" width="1" height="3" fill="#000" />
<rect x="820" y="926" width="1" height="3" fill="#000" />
<rect x="884" y="926" width="1" height="3" fill="#000" />
<rect x="948" y="926" width="1" height="3" fill="#000" />
<rect x="1012" y="926" width="1" height="3" fill="#000" />
<rect x="1076" y="926" width="1" height="3" fill="#000" />
<rect x="1140" y="926" width="1" height="3" fill="#000" />
<rect x="1204" y="926" width="1" height="3" fill="#000" />
<rect x="1268" y="926" width="1" height="3" fill="#000" />
<rect x="1332" y="926" width="1" height="3" fill="#000" />
</g>
<text transform="translate(-13 938) skewX(0.5)" font-family="Liberation Sans, sans-serif" font-size="10.2" fill="#000" stroke="#000" stroke-width="0.08" textLength="47" lengthAdjust="spacingAndGlyphs">3 Sep 2021</text>
<text transform="translate(51 938) skewX(0.5)" font-family="Liberation Sans, sans-serif" font-size="10.2" fill="#000" stroke="#000" stroke-width="0.08" textLength="50.2" lengthAdjust="spacingAndGlyphs">6 Sep 04:00</text>
<text transform="translate(115 938) skewX(0.5)" font-family="Liberation Sans, sans-serif" font-size="10.2" fill="#000" stroke="#000" stroke-width="0.08" textLength="50.2" lengthAdjust="spacingAndGlyphs">7 Sep 12:00</text>
<text transform="translate(179 938) skewX(0.5)" font-family="Liberation Sans, sans-serif" font-size="10.2" fill="#000" stroke="#000" stroke-width="0.08" textLength="50.2" lengthAdjust="spacingAndGlyphs">8 Sep 20:00</text>
<text transform="translate(243 938) skewX(0.5)" font-family="Liberation Sans, sans-serif" font-size="10.2" fill="#000" stroke="#000" stroke-width="0.08" textLength="54.6" lengthAdjust="spacingAndGlyphs">10 Sep 04:00</text>
<text transform="translate(307 938) skewX(0.5)" font-family="Liberation Sans, sans-serif" font-size="10.2" fill="#000" stroke="#000" stroke-width="0.08" textLength="54.6" lengthAdjust="spacingAndGlyphs">13 Sep 12:00</text>
<text transform="translate(371 938) skewX(0.5)" font-family="Liberation Sans, sans-serif" font-size="10.2" fill="#000" stroke="#000" stroke-width="0.08" textLength="54.6" lengthAdjust="spacingAndGlyphs">14 Sep 20:00</text>
<text transform="translate(435 938) skewX(0.5)" font-family="Liberation Sans, sans-serif" font-size="10.2" fill="#000" stroke="#000" stroke-width="0.08" textLength="54.6" lengthAdjust="spacingAndGlyphs">16 Sep 04:00</text>
<text transform="translate(499 938) skewX(0.5)" font-family="Liberation Sans, sans-serif" font-size="10.2" fill="#000" stroke="#000" stroke-width="0.08" textLength="54.6" lengthAdjust="spacingAndGlyphs">17 Sep 12:00</text>
<text transform="translate(563 938) skewX(0.5)" font-family="Liberation Sans, sans-serif" font-size="10.2" fill="#000" stroke="#000" stroke-width="0.08" textLength="54.6" lengthAdjust="spacingAndGlyphs">20 Sep 20:00</text>
<text transform="translate(627 938) skewX(0.5)" font-family="Liberation Sans, sans-serif" font-size="10.2" fill="#000" stroke="#000" stroke-width="0.08" textLength="54.6" lengthAdjust="spacingAndGlyphs">22 Sep 04:00</text>
<text transform="translate(691 938) skewX(0.5)" font-family="Liberation Sans, sans-serif" font-size="10.2" fill="#000" stroke="#000" stroke-width="0.08" textLength="54.6" lengthAdjust="spacingAndGlyphs">23 Sep 12:00</text>
<text transform="translate(755 938) skewX(0.5)" font-family="Liberation Sans, sans-serif" font-size="10.2" fill="#000" stroke="#000" stroke-width="0.08" textLength="54.6" lengthAdjust="spacingAndGlyphs">26 Sep 23:00</text>
<text transform="translate(819 938) skewX(0.5)" font-family="Liberation Sans, sans-serif" font-size="10.2" fill="#000" stroke="#000" stroke-width="0.08" textLength="54.6" lengthAdjust="spacingAndGlyphs">28 Sep 04:00</text>
<text transform="translate(883 938) skewX(0.5)" font-family="Liberation Sans, sans-serif" font-size="10.2" fill="#000" stroke="#000" stroke-width="0.08" textLength="54.6" lengthAdjust="spacingAndGlyphs">29 Sep 12:00</text>
<text transform="translate(947 938) skewX(0.5)" font-family="Liberation Sans, sans-serif" font-size="10.2" fill="#000" stroke="#000" stroke-width="0.08" textLength="54.6" lengthAdjust="spacingAndGlyphs">30 Sep 20:00</text>
<text transform="translate(1011 938) skewX(0.5)" font-family="Liberation Sans, sans-serif" font-size="10.2" fill="#000" stroke="#000" stroke-width="0.08" textLength="48.9" lengthAdjust="spacingAndGlyphs">4 Oct 04:00</text>
<text transform="translate(1075 938) skewX(0.5)" font-family="Liberation Sans, sans-serif" font-size="10.2" fill="#000" stroke="#000" stroke-width="0.08" textLength="48.9" lengthAdjust="spacingAndGlyphs">5 Oct 12:00</text>
<text transform="translate(1139 938) skewX(0.5)" font-family="Liberation Sans, sans-serif" font-size="10.2" fill="#000" stroke="#000" stroke-width="0.08" textLength="48.9" lengthAdjust="spacingAndGlyphs">6 Oct 20:00</text>
<text transform="translate(1203 938) skewX(0.5)" font-family="Liberation Sans, sans-serif" font-size="10.2" fill="#000" stroke="#000" stroke-width="0.08" textLength="48.9" lengthAdjust="spacingAndGlyphs">8 Oct 04:00</text>
<text transform="translate(1267 938) skewX(0.5)" font-family="Liberation Sans, sans-serif" font-size="10.2" fill="#000" stroke="#000" stroke-width="0.08" textLength="54.0" lengthAdjust="spacingAndGlyphs">11 Oct 12:00</text>
<text transform="translate(1331 938) skewX(0.5)" font-family="Liberation Sans, sans-serif" font-size="10.2" fill="#000" stroke="#000" stroke-width="0.08" textLength="54.0" lengthAdjust="spacingAndGlyphs">12 Oct 20:00</text>
<g shape-rendering="crispEdges">
<rect x="0" y="44" width="210" height="57" fill="#ffffff" />
<rect x="0" y="44" width="43" height="24" fill="#1414b4" />
<rect x="0" y="45" width="42" height="23" fill="url(#gB)" />
<rect x="158" y="44" width="52" height="24" fill="#1414b4" />
<rect x="159" y="45" width="50" height="23" fill="url(#gB)" />
<rect x="0" y="68" width="100" height="33" fill="url(#gP)" />
<rect x="102" y="68" width="108" height="33" fill="url(#gP)" />
<rect x="99" y="68" width="1" height="33" fill="#1010a4" />
<rect x="209" y="68" width="1" height="33" fill="#1010a4" />
<rect x="102" y="68" width="1" height="33" fill="#1a1ab8" />
<rect x="0" y="100" width="100" height="1" fill="#05058e" />
<rect x="102" y="100" width="108" height="1" fill="#05058e" />
<rect x="0" y="67" width="39" height="1" fill="#1818b0" />
<rect x="0" y="68" width="39" height="1" fill="#7c7cf4" />
<rect x="162" y="67" width="44" height="1" fill="#1818b0" />
<rect x="162" y="68" width="44" height="1" fill="#7c7cf4" />
<rect x="45.5" y="44.5" width="110" height="21" fill="#fff" stroke="#a6a6a6"/>
<rect x="46" y="45" width="20" height="20" fill="url(#gBtn)" />
<rect x="66" y="45" width="1" height="20" fill="#b0b0b0" />
<rect x="135" y="45" width="20" height="20" fill="url(#gBtn)" />
<rect x="134" y="45" width="1" height="20" fill="#b0b0b0" />
</g>
<path d="M53 53.2 L58.6 53.2 L55.8 56.2 Z" fill="#4a5ec0"/><path d="M141.8 55.8 L147.4 55.8 L144.6 52.8 Z" fill="#4a5ec0"/>
<text x="107.6" y="58.9" font-family="Liberation Sans, sans-serif" font-size="12.1" fill="#101010" textLength="22.8" lengthAdjust="spacingAndGlyphs">1.00</text>
<text x="3.4" y="60" font-family="Liberation Sans, sans-serif" font-size="12.4" fill="#fff" textLength="26" lengthAdjust="spacingAndGlyphs">SELL</text>
<text x="171.2" y="60" font-family="Liberation Sans, sans-serif" font-size="12.4" fill="#fff" textLength="24" lengthAdjust="spacingAndGlyphs">BUY</text>
<text x="11.4" y="96" font-family="Liberation Sans, sans-serif" font-size="12" font-weight="bold" fill="#fff" textLength="23.4" lengthAdjust="spacingAndGlyphs">1.15</text>
<text x="38.2" y="96.2" font-family="Liberation Sans, sans-serif" font-size="34.6" fill="#fff" textLength="35.4" lengthAdjust="spacingAndGlyphs">90</text>
<text x="77.8" y="80" font-family="Liberation Sans, sans-serif" font-size="12.4" font-weight="bold" fill="#fff">7</text>
<text x="121.4" y="96" font-family="Liberation Sans, sans-serif" font-size="12" font-weight="bold" fill="#fff" textLength="23.4" lengthAdjust="spacingAndGlyphs">1.15</text>
<text x="149.2" y="96.2" font-family="Liberation Sans, sans-serif" font-size="34.6" fill="#fff" textLength="35.4" lengthAdjust="spacingAndGlyphs">96</text>
<text x="188.8" y="80" font-family="Liberation Sans, sans-serif" font-size="12.4" font-weight="bold" fill="#fff">4</text>
</svg>
</body></html>
